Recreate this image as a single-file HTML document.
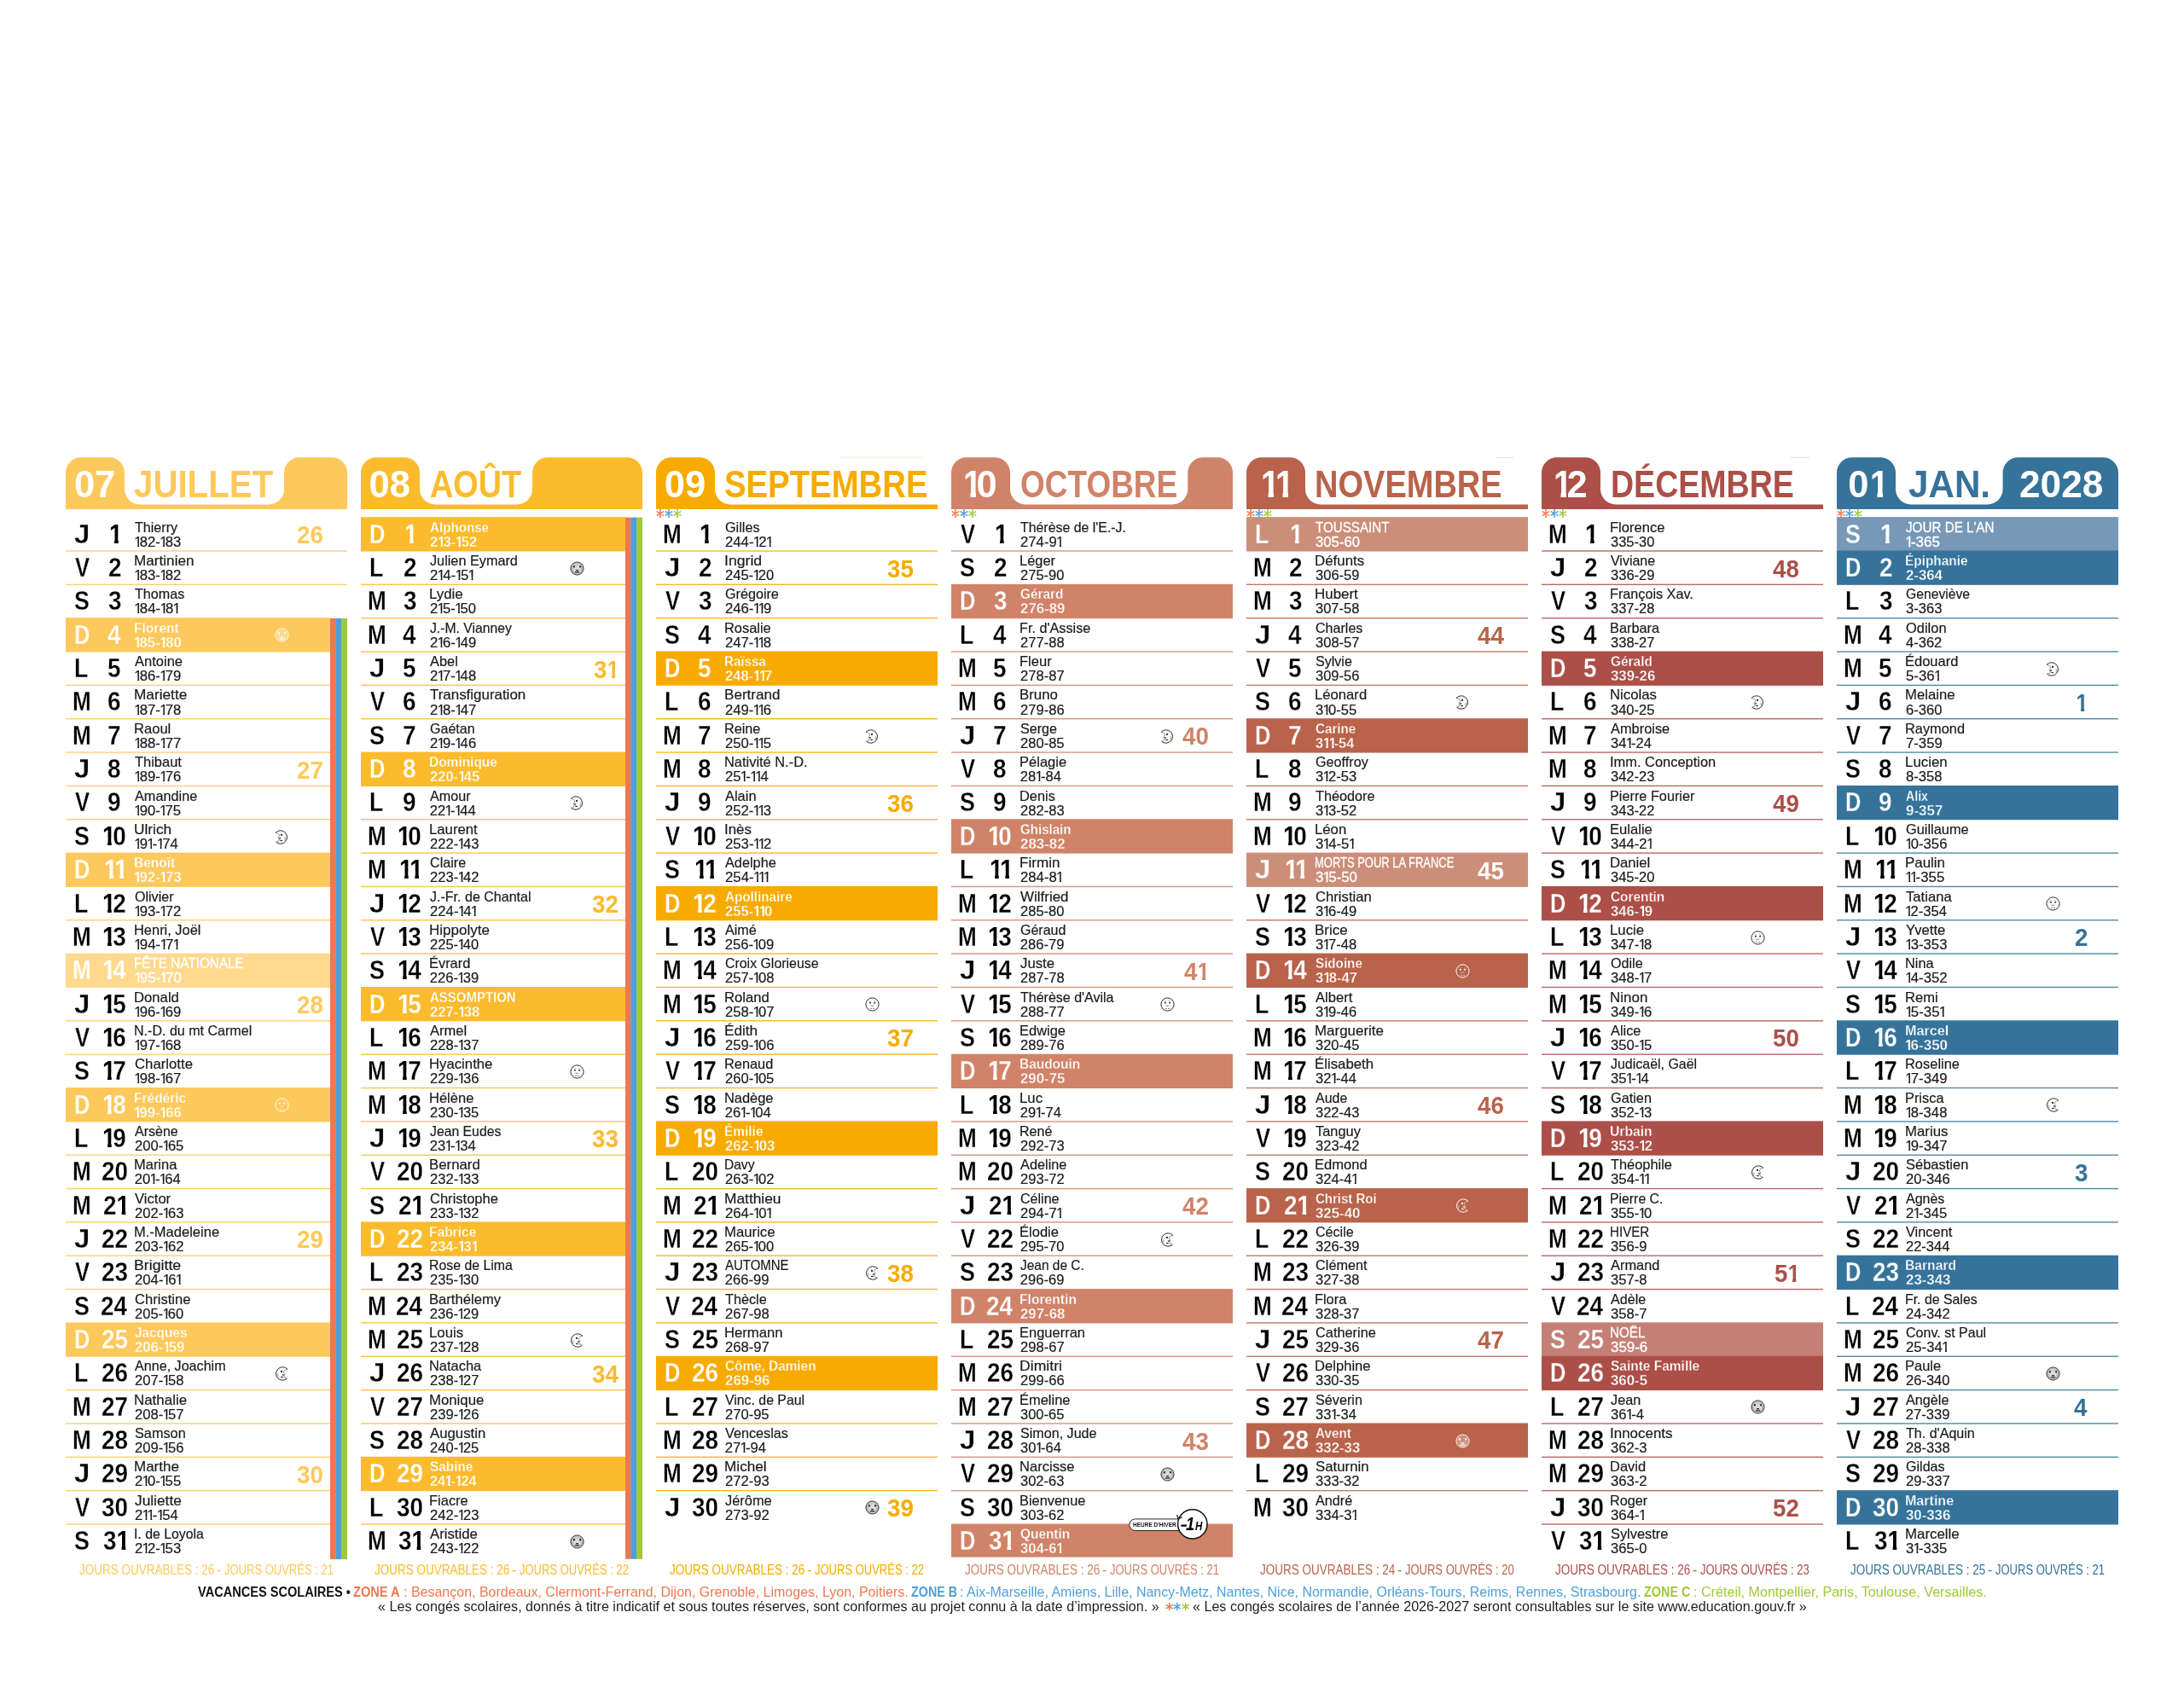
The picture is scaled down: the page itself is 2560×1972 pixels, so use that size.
<!DOCTYPE html>
<html lang="fr"><head><meta charset="utf-8"><title>Calendrier 2027 - second semestre</title>
<style>
html,body{margin:0;padding:0;background:#fff}
body{width:2560px;height:1972px;position:relative;overflow:hidden;font-family:"Liberation Sans",sans-serif;color:#000}
.col{position:absolute;top:0;width:330px;height:1972px;will-change:transform}
.g{position:absolute;left:0;top:0}
.t{position:absolute;white-space:nowrap;line-height:1;transform-origin:0 0;display:block}
.hn,.ht,.hy{font-weight:700;font-size:43.5px}
.hn,.hy{color:#fff}
.dl,.dn{font-size:31px;font-weight:700;-webkit-text-stroke:.3px #fff}
.w .dl,.w .dn{-webkit-text-stroke-color:var(--c)}
.h .dl,.h .dn{-webkit-text-stroke-color:var(--l)}
.o{display:inline-block;width:.44em;-webkit-text-stroke-width:0;transform-origin:.2165em 0;clip-path:polygon(0 0,.56em 0,.56em .55em,.385em .55em,.385em 1.2em,.218em 1.2em,.218em .55em,0 .55em)}
.nm{font-size:17px;color:#1a1a1a;-webkit-text-stroke:.2px #1a1a1a}
.nb{font-size:16.6px;color:#1a1a1a;-webkit-text-stroke:.2px #1a1a1a}
.h .nm,.h .nb{-webkit-text-stroke:.3px #fff}
.w .nm,.w .nb,.w .dl,.w .dn{color:#fff}
.s .nm,.s .nb{font-weight:700;-webkit-text-stroke:.3px var(--c)}
.wk{font-weight:700;font-size:29.5px}
.ft{font-size:15.6px}
.fl{position:absolute;left:0;top:0;width:2560px;height:1972px;will-change:transform}
i{font-style:normal}
.o9{width:.39em;transform:scaleX(.9)}
.p{display:inline-block;width:.346em;text-indent:-.045em;clip-path:polygon(0 0,.5em 0,.5em .55em,.31em .55em,.31em 1.2em,.192em 1.2em,.192em .55em,0 .55em)}
</style></head>
<body>
<svg width="0" height="0" style="position:absolute"><defs>
<radialGradient id="gN" cx=".5" cy=".45" r=".55"><stop offset="0" stop-color="#e2e2e2"/><stop offset=".45" stop-color="#cfcfcf"/><stop offset="1" stop-color="#a6a6a6"/></radialGradient>
<symbol id="mN" viewBox="0 0 17 17"><circle cx="8.5" cy="8.5" r="7.6" fill="var(--mf,url(#gN))" stroke="currentColor" stroke-width=".9"/><ellipse cx="4.9" cy="6.3" rx="1.05" ry="1.3" fill="currentColor"/><ellipse cx="12.1" cy="6.3" rx="1.05" ry="1.3" fill="currentColor"/><path d="M5.3 7.8V14M11.7 7.8V14" stroke="var(--ml,#f4f4f4)" stroke-width=".6" fill="none"/><path d="M6.9 9.9h3.2l-.5 1.5h-2.2z" fill="currentColor"/><path d="M5.7 13h5.6" stroke="currentColor" stroke-width="1.25" fill="none"/><path d="M6.4 14.6h4.2" stroke="var(--ml,#f2f2f2)" stroke-width=".6" fill="none"/></symbol>
<symbol id="mU" viewBox="0 0 17 17"><circle cx="8.5" cy="8.5" r="7.6" fill="var(--uf,#fff)" stroke="currentColor" stroke-width="1"/><path d="M3.9 5.3q1.7-1.3 3.4-.5M13.1 5.3q-1.7-1.3-3.4-.5" stroke="currentColor" stroke-width=".6" opacity=".45" fill="none"/><circle cx="5.9" cy="6.7" r=".95" fill="currentColor"/><circle cx="11.1" cy="6.7" r=".95" fill="currentColor"/><path d="M5.5 9.4q3 .5 6 0q-3 3-6 0z" fill="currentColor" opacity=".5"/><path d="M5.9 13.4h1.9M9.2 13.4h1.9" stroke="currentColor" stroke-width=".9" opacity=".75" fill="none"/></symbol>
<symbol id="mF" viewBox="0 0 17 17"><path d="M1 3.4A7.7 7.7 0 1 1 1.6 14.2" fill="none" stroke="currentColor" stroke-width="1"/><path d="M1 3.4Q5.6 3.8 5.6 7.2Q4 8.6 4.2 9.8Q5.4 10.6 5 11.6Q5.8 13.6 1.6 14.2" fill="none" stroke="currentColor" stroke-width=".65" opacity=".8"/><ellipse cx="8" cy="5.9" rx="1.15" ry="1.05" fill="currentColor"/><ellipse cx="6" cy="9.9" rx="1.3" ry=".85" fill="currentColor" opacity=".8"/><ellipse cx="7.6" cy="12.6" rx="1.5" ry=".75" fill="currentColor"/><path d="M12.2 8.2V12.4" stroke="currentColor" stroke-width=".7" opacity=".65"/></symbol>
<symbol id="mL" viewBox="0 0 17 17"><g transform="translate(17 0) scale(-1 1)"><path d="M1 3.4A7.7 7.7 0 1 1 1.6 14.2" fill="none" stroke="currentColor" stroke-width="1"/><path d="M1 3.4Q5.6 3.8 5.6 7.2Q4 8.6 4.2 9.8Q5.4 10.6 5 11.6Q5.8 13.6 1.6 14.2" fill="none" stroke="currentColor" stroke-width=".65" opacity=".8"/><ellipse cx="8" cy="5.9" rx="1.15" ry="1.05" fill="currentColor"/><ellipse cx="6" cy="9.9" rx="1.3" ry=".85" fill="currentColor" opacity=".8"/><ellipse cx="7.6" cy="12.6" rx="1.5" ry=".75" fill="currentColor"/><path d="M12.2 8.2V12.4" stroke="currentColor" stroke-width=".7" opacity=".65"/></g></symbol>
<symbol id="ast" viewBox="-5 -5 10 10"><path d="M0-4.4V4.4M-3.7-2.15L3.7 2.15M-3.7 2.15L3.7-2.15" stroke="currentColor" stroke-width="1.55" stroke-linecap="round" fill="none"/></symbol>
</defs></svg>
<div class="col" style="left:77px;color:#FDC95C;--c:#FDC95C;--l:#FED98E">
<svg class="g" width="330" height="1972" viewBox="0 0 330 1972"><path d="M0 596.9 V554.2 A18 18 0 0 1 18 536.2 H51 A18 18 0 0 1 69 554.2 V573.4 A18 18 0 0 0 87 591.4 H238 A18 18 0 0 0 256 573.4 V554.2 A18 18 0 0 1 274 536.2 H312 A18 18 0 0 1 330 554.2 V596.9 Z" fill="#FDC95C"/><rect x="0" y="645.3" width="330" height="1.4" fill="#FDC95C" opacity=".85"/><rect x="0" y="684.64" width="330" height="1.4" fill="#FDC95C" opacity=".85"/><rect x="0" y="724.19" width="310" height="40.34" fill="#FDC95C"/><rect x="0" y="802.68" width="310" height="1.4" fill="#FDC95C" opacity=".85"/><rect x="0" y="842.02" width="310" height="1.4" fill="#FDC95C" opacity=".85"/><rect x="0" y="881.37" width="310" height="1.4" fill="#FDC95C" opacity=".85"/><rect x="0" y="920.71" width="310" height="1.4" fill="#FDC95C" opacity=".85"/><rect x="0" y="960.06" width="310" height="1.4" fill="#FDC95C" opacity=".85"/><rect x="0" y="999.61" width="310" height="40.34" fill="#FDC95C"/><rect x="0" y="1078.09" width="310" height="1.4" fill="#FDC95C" opacity=".85"/><rect x="0" y="1117.64" width="310" height="40.34" fill="#FED98E"/><rect x="0" y="1196.13" width="310" height="1.4" fill="#FDC95C" opacity=".85"/><rect x="0" y="1235.47" width="310" height="1.4" fill="#FDC95C" opacity=".85"/><rect x="0" y="1275.02" width="310" height="40.34" fill="#FDC95C"/><rect x="0" y="1353.51" width="310" height="1.4" fill="#FDC95C" opacity=".85"/><rect x="0" y="1392.86" width="310" height="1.4" fill="#FDC95C" opacity=".85"/><rect x="0" y="1432.2" width="310" height="1.4" fill="#FDC95C" opacity=".85"/><rect x="0" y="1471.55" width="310" height="1.4" fill="#FDC95C" opacity=".85"/><rect x="0" y="1510.89" width="310" height="1.4" fill="#FDC95C" opacity=".85"/><rect x="0" y="1550.43" width="310" height="40.34" fill="#FDC95C"/><rect x="0" y="1628.92" width="310" height="1.4" fill="#FDC95C" opacity=".85"/><rect x="0" y="1668.27" width="310" height="1.4" fill="#FDC95C" opacity=".85"/><rect x="0" y="1707.62" width="310" height="1.4" fill="#FDC95C" opacity=".85"/><rect x="0" y="1746.96" width="310" height="1.4" fill="#FDC95C" opacity=".85"/><rect x="0" y="1786.3" width="310" height="1.4" fill="#FDC95C" opacity=".85"/><rect x="310" y="724.99" width="6.6" height="1103.11" fill="#EE7850"/><rect x="316.3" y="724.99" width="7.15" height="1103.11" fill="#4E9FDB"/><rect x="323.15" y="724.99" width="6.85" height="1103.11" fill="#A0C83C"/></svg>
<span class="t hn" style="left:9.9px;top:547.48px;">07</span><span class="t ht" style="left:80.4px;top:547.48px;transform:scaleX(0.925);">JUILLET</span>
<div class="r"><span class="t dl" style="left:10.21px;top:610.71px;transform:scaleX(1.064);color:#000;">J</span><span class="t dn" style="left:51.16px;top:610.71px;transform:scaleX(0.900);color:#000;"><i class="o">1</i></span><span class="t nm" style="left:81.05px;top:609.76px;transform:scaleX(0.946);">Thierry</span><span class="t nb" style="left:80.75px;top:627.8px;transform:scaleX(1.005);"><i class="p">1</i>82-<i class="p">1</i>83</span><span class="t wk" style="left:270.89px;top:612.18px;transform:scaleX(0.940);">26</span></div>
<div class="r"><span class="t dl" style="left:10.55px;top:650.06px;transform:scaleX(0.827);color:#000;">V</span><span class="t dn" style="left:49.51px;top:650.06px;transform:scaleX(0.900);color:#000;">2</span><span class="t nm" style="left:79.99px;top:649.11px;transform:scaleX(1.009);">Martinien</span><span class="t nb" style="left:80.75px;top:667.15px;transform:scaleX(1.007);"><i class="p">1</i>83-<i class="p">1</i>82</span></div>
<div class="r"><span class="t dl" style="left:10.3px;top:689.4px;transform:scaleX(0.866);color:#000;">S</span><span class="t dn" style="left:49.63px;top:689.4px;transform:scaleX(0.900);color:#000;">3</span><span class="t nm" style="left:81.05px;top:688.45px;transform:scaleX(0.948);">Thomas</span><span class="t nb" style="left:80.74px;top:706.49px;transform:scaleX(1.014);"><i class="p">1</i>84-<i class="p">1</i>8<i class="p">1</i></span></div>
<div class="r w s"><span class="t dl" style="left:9.57px;top:728.75px;transform:scaleX(0.823);">D</span><span class="t dn" style="left:49.3px;top:728.75px;transform:scaleX(0.900);">4</span><span class="t nm" style="left:80.37px;top:727.8px;transform:scaleX(0.916);">Florent</span><span class="t nb" style="left:80.29px;top:745.84px;transform:scaleX(1.009);"><i class="o o9">1</i>85-<i class="o o9">1</i>80</span><svg class="g" style="left:244.55px;top:736.49px;color:#fff;--mf:rgba(255,255,255,.28);--uf:none;--ml:rgba(255,255,255,.75)" width="17" height="17"><use href="#mN"/></svg></div>
<div class="r"><span class="t dl" style="left:10.43px;top:768.09px;transform:scaleX(0.864);color:#000;">L</span><span class="t dn" style="left:49.4px;top:768.09px;transform:scaleX(0.900);color:#000;">5</span><span class="t nm" style="left:81.37px;top:767.14px;transform:scaleX(0.972);">Antoine</span><span class="t nb" style="left:80.75px;top:785.18px;transform:scaleX(1.006);"><i class="p">1</i>86-<i class="p">1</i>79</span></div>
<div class="r"><span class="t dl" style="left:8.23px;top:807.44px;transform:scaleX(0.842);color:#000;">M</span><span class="t dn" style="left:49.43px;top:807.44px;transform:scaleX(0.900);color:#000;">6</span><span class="t nm" style="left:79.99px;top:806.49px;transform:scaleX(1.014);">Mariette</span><span class="t nb" style="left:80.75px;top:824.53px;transform:scaleX(1.005);"><i class="p">1</i>87-<i class="p">1</i>78</span></div>
<div class="r"><span class="t dl" style="left:8.23px;top:846.78px;transform:scaleX(0.842);color:#000;">M</span><span class="t dn" style="left:49.46px;top:846.78px;transform:scaleX(0.900);color:#000;">7</span><span class="t nm" style="left:80.04px;top:845.83px;transform:scaleX(0.975);">Raoul</span><span class="t nb" style="left:80.75px;top:863.87px;transform:scaleX(1.007);"><i class="p">1</i>88-<i class="p">1</i>77</span></div>
<div class="r"><span class="t dl" style="left:10.21px;top:886.13px;transform:scaleX(1.064);color:#000;">J</span><span class="t dn" style="left:49.43px;top:886.13px;transform:scaleX(0.900);color:#000;">8</span><span class="t nm" style="left:81.04px;top:885.18px;transform:scaleX(0.968);">Thibaut</span><span class="t nb" style="left:80.75px;top:903.22px;transform:scaleX(1.005);"><i class="p">1</i>89-<i class="p">1</i>76</span><span class="t wk" style="left:271px;top:887.6px;transform:scaleX(0.940);">27</span></div>
<div class="r"><span class="t dl" style="left:10.55px;top:925.47px;transform:scaleX(0.827);color:#000;">V</span><span class="t dn" style="left:49.47px;top:925.47px;transform:scaleX(0.900);color:#000;">9</span><span class="t nm" style="left:81.37px;top:924.52px;transform:scaleX(0.958);">Amandine</span><span class="t nb" style="left:80.75px;top:942.56px;transform:scaleX(1.004);"><i class="p">1</i>90-<i class="p">1</i>75</span></div>
<div class="r"><span class="t dl" style="left:10.3px;top:964.82px;transform:scaleX(0.866);color:#000;">S</span><span class="t dn" style="left:42.98px;top:964.82px;transform:scaleX(0.900);color:#000;"><i class="o">1</i>0</span><span class="t nm" style="left:80.07px;top:963.87px;transform:scaleX(1.016);">Ulrich</span><span class="t nb" style="left:80.75px;top:981.91px;transform:scaleX(1.006);"><i class="p">1</i>9<i class="p">1</i>-<i class="p">1</i>74</span><svg class="g" style="left:245.05px;top:972.66px;color:#2a2a2a" width="17" height="17"><use href="#mF"/></svg></div>
<div class="r w s"><span class="t dl" style="left:9.57px;top:1004.16px;transform:scaleX(0.823);">D</span><span class="t dn" style="left:45.02px;top:1004.16px;transform:scaleX(0.900);"><i class="o">1</i><i class="o">1</i></span><span class="t nm" style="left:80.38px;top:1003.21px;transform:scaleX(0.909);">Benoît</span><span class="t nb" style="left:80.29px;top:1021.25px;transform:scaleX(1.008);"><i class="o o9">1</i>92-<i class="o o9">1</i>73</span></div>
<div class="r"><span class="t dl" style="left:10.43px;top:1043.51px;transform:scaleX(0.864);color:#000;">L</span><span class="t dn" style="left:42.97px;top:1043.51px;transform:scaleX(0.900);color:#000;"><i class="o">1</i>2</span><span class="t nm" style="left:80.65px;top:1042.56px;transform:scaleX(0.944);">Olivier</span><span class="t nb" style="left:80.75px;top:1060.6px;transform:scaleX(1.007);"><i class="p">1</i>93-<i class="p">1</i>72</span></div>
<div class="r"><span class="t dl" style="left:8.23px;top:1082.85px;transform:scaleX(0.842);color:#000;">M</span><span class="t dn" style="left:42.92px;top:1082.85px;transform:scaleX(0.900);color:#000;"><i class="o">1</i>3</span><span class="t nm" style="left:80.05px;top:1081.9px;transform:scaleX(0.966);">Henri, Joël</span><span class="t nb" style="left:80.74px;top:1099.94px;transform:scaleX(1.014);"><i class="p">1</i>94-<i class="p">1</i>7<i class="p">1</i></span></div>
<div class="r w h"><span class="t dl" style="left:8.23px;top:1122.2px;transform:scaleX(0.842);">M</span><span class="t dn" style="left:42.5px;top:1122.2px;transform:scaleX(0.900);"><i class="o">1</i>4</span><span class="t nm" style="left:80.15px;top:1121.25px;transform:scaleX(0.899);">FÊTE NATIONALE</span><span class="t nb" style="left:80.74px;top:1139.29px;transform:scaleX(1.018);"><i class="p">1</i>95-<i class="p">1</i>70</span></div>
<div class="r"><span class="t dl" style="left:10.21px;top:1161.54px;transform:scaleX(1.064);color:#000;">J</span><span class="t dn" style="left:42.8px;top:1161.54px;transform:scaleX(0.900);color:#000;"><i class="o">1</i>5</span><span class="t nm" style="left:80.03px;top:1160.59px;transform:scaleX(0.982);">Donald</span><span class="t nb" style="left:80.75px;top:1178.63px;transform:scaleX(1.006);"><i class="p">1</i>96-<i class="p">1</i>69</span><span class="t wk" style="left:270.82px;top:1163.01px;transform:scaleX(0.940);">28</span></div>
<div class="r"><span class="t dl" style="left:10.55px;top:1200.89px;transform:scaleX(0.827);color:#000;">V</span><span class="t dn" style="left:42.92px;top:1200.89px;transform:scaleX(0.900);color:#000;"><i class="o">1</i>6</span><span class="t nm" style="left:80.08px;top:1199.94px;transform:scaleX(0.944);">N.-D. du mt Carmel</span><span class="t nb" style="left:80.75px;top:1217.98px;transform:scaleX(1.005);"><i class="p">1</i>97-<i class="p">1</i>68</span></div>
<div class="r"><span class="t dl" style="left:10.3px;top:1240.23px;transform:scaleX(0.866);color:#000;">S</span><span class="t dn" style="left:43.03px;top:1240.23px;transform:scaleX(0.900);color:#000;"><i class="o">1</i>7</span><span class="t nm" style="left:80.56px;top:1239.28px;transform:scaleX(0.985);">Charlotte</span><span class="t nb" style="left:80.75px;top:1257.32px;transform:scaleX(1.007);"><i class="p">1</i>98-<i class="p">1</i>67</span></div>
<div class="r w s"><span class="t dl" style="left:9.57px;top:1279.58px;transform:scaleX(0.823);">D</span><span class="t dn" style="left:42.85px;top:1279.58px;transform:scaleX(0.900);"><i class="o">1</i>8</span><span class="t nm" style="left:80.38px;top:1278.63px;transform:scaleX(0.912);">Frédéric</span><span class="t nb" style="left:80.29px;top:1296.67px;transform:scaleX(1.008);"><i class="o o9">1</i>99-<i class="o o9">1</i>66</span><svg class="g" style="left:244.55px;top:1287.32px;color:#fff;--mf:rgba(255,255,255,.28);--uf:none;--ml:rgba(255,255,255,.75)" width="17" height="17"><use href="#mU"/></svg></div>
<div class="r"><span class="t dl" style="left:10.43px;top:1318.92px;transform:scaleX(0.864);color:#000;">L</span><span class="t dn" style="left:42.93px;top:1318.92px;transform:scaleX(0.900);color:#000;"><i class="o">1</i>9</span><span class="t nm" style="left:81.37px;top:1317.97px;transform:scaleX(0.942);">Arsène</span><span class="t nb" style="left:80.77px;top:1336.01px;transform:scaleX(0.998);">200-<i class="p">1</i>65</span></div>
<div class="r"><span class="t dl" style="left:8.23px;top:1358.27px;transform:scaleX(0.842);color:#000;">M</span><span class="t dn" style="left:41.77px;top:1358.27px;transform:scaleX(0.900);color:#000;">20</span><span class="t nm" style="left:80.05px;top:1357.32px;transform:scaleX(0.969);">Marina</span><span class="t nb" style="left:80.77px;top:1375.36px;">20<i class="p">1</i>-<i class="p">1</i>64</span></div>
<div class="r"><span class="t dl" style="left:8.23px;top:1397.61px;transform:scaleX(0.842);color:#000;">M</span><span class="t dn" style="left:43.81px;top:1397.61px;transform:scaleX(0.900);color:#000;">2<i class="o">1</i></span><span class="t nm" style="left:81.33px;top:1396.66px;transform:scaleX(0.977);">Victor</span><span class="t nb" style="left:80.77px;top:1414.7px;transform:scaleX(0.999);">202-<i class="p">1</i>63</span></div>
<div class="r"><span class="t dl" style="left:10.21px;top:1436.96px;transform:scaleX(1.064);color:#000;">J</span><span class="t dn" style="left:41.76px;top:1436.96px;transform:scaleX(0.900);color:#000;">22</span><span class="t nm" style="left:80.04px;top:1436.01px;transform:scaleX(0.972);">M.-Madeleine</span><span class="t nb" style="left:80.77px;top:1454.05px;transform:scaleX(1.001);">203-<i class="p">1</i>62</span><span class="t wk" style="left:270.91px;top:1438.43px;transform:scaleX(0.940);">29</span></div>
<div class="r"><span class="t dl" style="left:10.55px;top:1476.3px;transform:scaleX(0.827);color:#000;">V</span><span class="t dn" style="left:41.7px;top:1476.3px;transform:scaleX(0.900);color:#000;">23</span><span class="t nm" style="left:79.95px;top:1475.35px;transform:scaleX(1.043);">Brigitte</span><span class="t nb" style="left:80.76px;top:1493.39px;transform:scaleX(1.007);">204-<i class="p">1</i>6<i class="p">1</i></span></div>
<div class="r"><span class="t dl" style="left:10.3px;top:1515.65px;transform:scaleX(0.866);color:#000;">S</span><span class="t dn" style="left:41.28px;top:1515.65px;transform:scaleX(0.900);color:#000;">24</span><span class="t nm" style="left:80.57px;top:1514.7px;transform:scaleX(0.976);">Christine</span><span class="t nb" style="left:80.77px;top:1532.74px;transform:scaleX(0.997);">205-<i class="p">1</i>60</span></div>
<div class="r w s"><span class="t dl" style="left:9.57px;top:1554.99px;transform:scaleX(0.823);">D</span><span class="t dn" style="left:41.59px;top:1554.99px;transform:scaleX(0.900);">25</span><span class="t nm" style="left:81.17px;top:1554.04px;transform:scaleX(0.903);">Jacques</span><span class="t nb" style="left:81.03px;top:1572.08px;transform:scaleX(1.004);">206-<i class="o o9">1</i>59</span></div>
<div class="r"><span class="t dl" style="left:10.43px;top:1594.34px;transform:scaleX(0.864);color:#000;">L</span><span class="t dn" style="left:41.7px;top:1594.34px;transform:scaleX(0.900);color:#000;">26</span><span class="t nm" style="left:81.37px;top:1593.39px;transform:scaleX(0.948);">Anne, Joachim</span><span class="t nb" style="left:80.77px;top:1611.43px;transform:scaleX(0.999);">207-<i class="p">1</i>58</span><svg class="g" style="left:243.55px;top:1602.18px;color:#2a2a2a" width="17" height="17"><use href="#mL"/></svg></div>
<div class="r"><span class="t dl" style="left:8.23px;top:1633.68px;transform:scaleX(0.842);color:#000;">M</span><span class="t dn" style="left:41.81px;top:1633.68px;transform:scaleX(0.900);color:#000;">27</span><span class="t nm" style="left:80.01px;top:1632.73px;transform:scaleX(0.995);">Nathalie</span><span class="t nb" style="left:80.77px;top:1650.77px;transform:scaleX(1.001);">208-<i class="p">1</i>57</span></div>
<div class="r"><span class="t dl" style="left:8.23px;top:1673.03px;transform:scaleX(0.842);color:#000;">M</span><span class="t dn" style="left:41.63px;top:1673.03px;transform:scaleX(0.900);color:#000;">28</span><span class="t nm" style="left:80.67px;top:1672.08px;transform:scaleX(0.957);">Samson</span><span class="t nb" style="left:80.77px;top:1690.12px;transform:scaleX(0.999);">209-<i class="p">1</i>56</span></div>
<div class="r"><span class="t dl" style="left:10.21px;top:1712.37px;transform:scaleX(1.064);color:#000;">J</span><span class="t dn" style="left:41.71px;top:1712.37px;transform:scaleX(0.900);color:#000;">29</span><span class="t nm" style="left:80.01px;top:1711.42px;">Marthe</span><span class="t nb" style="left:80.77px;top:1729.46px;transform:scaleX(1.004);">2<i class="p">1</i>0-<i class="p">1</i>55</span><span class="t wk" style="left:271.13px;top:1713.84px;transform:scaleX(0.940);">30</span></div>
<div class="r"><span class="t dl" style="left:10.55px;top:1751.72px;transform:scaleX(0.827);color:#000;">V</span><span class="t dn" style="left:41.94px;top:1751.72px;transform:scaleX(0.900);color:#000;">30</span><span class="t nm" style="left:81.14px;top:1750.77px;transform:scaleX(1.018);">Juliette</span><span class="t nb" style="left:80.77px;top:1768.81px;transform:scaleX(1.006);">2<i class="p">1</i><i class="p">1</i>-<i class="p">1</i>54</span></div>
<div class="r"><span class="t dl" style="left:10.3px;top:1791.06px;transform:scaleX(0.866);color:#000;">S</span><span class="t dn" style="left:43.97px;top:1791.06px;transform:scaleX(0.900);color:#000;">3<i class="o">1</i></span><span class="t nm" style="left:79.94px;top:1790.11px;transform:scaleX(0.932);">I. de Loyola</span><span class="t nb" style="left:80.77px;top:1808.15px;transform:scaleX(1.004);">2<i class="p">1</i>2-<i class="p">1</i>53</span></div>
<span class="t ft" style="left:15.6px;top:1833.09px;transform:scaleX(0.866);">JOURS OUVRABLES : 26</span><span class="t ft" style="left:177.4px;top:1833.09px;transform:scaleX(1.020);">-</span><span class="t ft" style="left:186.2px;top:1833.09px;transform:scaleX(0.834);">JOURS OUVRÉS : 21</span>
</div>
<div class="col" style="left:423px;color:#FBBB2D;--c:#FBBB2D;--l:#FCCF6C">
<svg class="g" width="330" height="1972" viewBox="0 0 330 1972"><path d="M0 596.9 V554.2 A18 18 0 0 1 18 536.2 H51 A18 18 0 0 1 69 554.2 V573.4 A18 18 0 0 0 87 591.4 H183 A18 18 0 0 0 201 573.4 V554.2 A18 18 0 0 1 219 536.2 H312 A18 18 0 0 1 330 554.2 V596.9 Z" fill="#FBBB2D"/><rect x="0" y="606.15" width="310" height="40.34" fill="#FBBB2D"/><rect x="0" y="684.64" width="310" height="1.4" fill="#FBBB2D" opacity=".85"/><rect x="0" y="723.99" width="310" height="1.4" fill="#FBBB2D" opacity=".85"/><rect x="0" y="763.33" width="310" height="1.4" fill="#FBBB2D" opacity=".85"/><rect x="0" y="802.68" width="310" height="1.4" fill="#FBBB2D" opacity=".85"/><rect x="0" y="842.02" width="310" height="1.4" fill="#FBBB2D" opacity=".85"/><rect x="0" y="881.57" width="310" height="40.34" fill="#FBBB2D"/><rect x="0" y="960.06" width="310" height="1.4" fill="#FBBB2D" opacity=".85"/><rect x="0" y="999.4" width="310" height="1.4" fill="#FBBB2D" opacity=".85"/><rect x="0" y="1038.75" width="310" height="1.4" fill="#FBBB2D" opacity=".85"/><rect x="0" y="1078.09" width="310" height="1.4" fill="#FBBB2D" opacity=".85"/><rect x="0" y="1117.44" width="310" height="1.4" fill="#FBBB2D" opacity=".85"/><rect x="0" y="1156.98" width="310" height="40.34" fill="#FBBB2D"/><rect x="0" y="1235.47" width="310" height="1.4" fill="#FBBB2D" opacity=".85"/><rect x="0" y="1274.82" width="310" height="1.4" fill="#FBBB2D" opacity=".85"/><rect x="0" y="1314.16" width="310" height="1.4" fill="#FBBB2D" opacity=".85"/><rect x="0" y="1353.51" width="310" height="1.4" fill="#FBBB2D" opacity=".85"/><rect x="0" y="1392.86" width="310" height="1.4" fill="#FBBB2D" opacity=".85"/><rect x="0" y="1432.4" width="310" height="40.34" fill="#FBBB2D"/><rect x="0" y="1510.89" width="310" height="1.4" fill="#FBBB2D" opacity=".85"/><rect x="0" y="1550.23" width="310" height="1.4" fill="#FBBB2D" opacity=".85"/><rect x="0" y="1589.58" width="310" height="1.4" fill="#FBBB2D" opacity=".85"/><rect x="0" y="1628.92" width="310" height="1.4" fill="#FBBB2D" opacity=".85"/><rect x="0" y="1668.27" width="310" height="1.4" fill="#FBBB2D" opacity=".85"/><rect x="0" y="1707.81" width="310" height="40.34" fill="#FBBB2D"/><rect x="0" y="1786.3" width="310" height="1.4" fill="#FBBB2D" opacity=".85"/><rect x="310" y="606.65" width="6.6" height="1221.14" fill="#EE7850"/><rect x="316.3" y="606.65" width="7.15" height="1221.14" fill="#4E9FDB"/><rect x="323.15" y="606.65" width="6.85" height="1221.14" fill="#A0C83C"/></svg>
<span class="t hn" style="left:9.61px;top:547.48px;">08</span><span class="t ht" style="left:81.39px;top:547.48px;transform:scaleX(0.870);">AOÛT</span>
<div class="r w s"><span class="t dl" style="left:9.57px;top:610.71px;transform:scaleX(0.823);">D</span><span class="t dn" style="left:51.16px;top:610.71px;transform:scaleX(0.900);"><i class="o">1</i></span><span class="t nm" style="left:81.04px;top:609.76px;transform:scaleX(0.891);">Alphonse</span><span class="t nb" style="left:81.04px;top:627.8px;transform:scaleX(0.995);">2<i class="o o9">1</i>3-<i class="o o9">1</i>52</span></div>
<div class="r"><span class="t dl" style="left:10.43px;top:650.06px;transform:scaleX(0.864);color:#000;">L</span><span class="t dn" style="left:49.51px;top:650.06px;transform:scaleX(0.900);color:#000;">2</span><span class="t nm" style="left:81.16px;top:649.11px;transform:scaleX(0.955);">Julien Eymard</span><span class="t nb" style="left:80.76px;top:667.15px;transform:scaleX(1.014);">2<i class="p">1</i>4-<i class="p">1</i>5<i class="p">1</i></span><svg class="g" style="left:244.55px;top:657.8px;color:#2a2a2a" width="17" height="17"><use href="#mN"/></svg></div>
<div class="r"><span class="t dl" style="left:8.23px;top:689.4px;transform:scaleX(0.842);color:#000;">M</span><span class="t dn" style="left:49.63px;top:689.4px;transform:scaleX(0.900);color:#000;">3</span><span class="t nm" style="left:80.02px;top:688.45px;transform:scaleX(0.992);">Lydie</span><span class="t nb" style="left:80.77px;top:706.49px;transform:scaleX(1.003);">2<i class="p">1</i>5-<i class="p">1</i>50</span></div>
<div class="r"><span class="t dl" style="left:8.23px;top:728.75px;transform:scaleX(0.842);color:#000;">M</span><span class="t dn" style="left:49.3px;top:728.75px;transform:scaleX(0.900);color:#000;">4</span><span class="t nm" style="left:81.16px;top:727.8px;transform:scaleX(0.926);">J.-M. Vianney</span><span class="t nb" style="left:80.77px;top:745.84px;transform:scaleX(1.006);">2<i class="p">1</i>6-<i class="p">1</i>49</span></div>
<div class="r"><span class="t dl" style="left:10.21px;top:768.09px;transform:scaleX(1.064);color:#000;">J</span><span class="t dn" style="left:49.4px;top:768.09px;transform:scaleX(0.900);color:#000;">5</span><span class="t nm" style="left:81.37px;top:767.14px;transform:scaleX(0.963);">Abel</span><span class="t nb" style="left:80.77px;top:785.18px;transform:scaleX(1.004);">2<i class="p">1</i>7-<i class="p">1</i>48</span><span class="t wk" style="left:273.37px;top:769.56px;transform:scaleX(0.940);">3<i class="o o9">1</i></span></div>
<div class="r"><span class="t dl" style="left:10.55px;top:807.44px;transform:scaleX(0.827);color:#000;">V</span><span class="t dn" style="left:49.43px;top:807.44px;transform:scaleX(0.900);color:#000;">6</span><span class="t nm" style="left:81.03px;top:806.49px;transform:scaleX(0.995);">Transfiguration</span><span class="t nb" style="left:80.76px;top:824.53px;transform:scaleX(1.007);">2<i class="p">1</i>8-<i class="p">1</i>47</span></div>
<div class="r"><span class="t dl" style="left:10.3px;top:846.78px;transform:scaleX(0.866);color:#000;">S</span><span class="t dn" style="left:49.46px;top:846.78px;transform:scaleX(0.900);color:#000;">7</span><span class="t nm" style="left:80.6px;top:845.83px;transform:scaleX(0.944);">Gaétan</span><span class="t nb" style="left:80.77px;top:863.87px;transform:scaleX(1.004);">2<i class="p">1</i>9-<i class="p">1</i>46</span></div>
<div class="r w s"><span class="t dl" style="left:9.57px;top:886.13px;transform:scaleX(0.823);">D</span><span class="t dn" style="left:49.43px;top:886.13px;transform:scaleX(0.900);">8</span><span class="t nm" style="left:80.38px;top:885.18px;transform:scaleX(0.910);">Dominique</span><span class="t nb" style="left:81.03px;top:903.22px;transform:scaleX(1.001);">220-<i class="o o9">1</i>45</span></div>
<div class="r"><span class="t dl" style="left:10.43px;top:925.47px;transform:scaleX(0.864);color:#000;">L</span><span class="t dn" style="left:49.47px;top:925.47px;transform:scaleX(0.900);color:#000;">9</span><span class="t nm" style="left:81.37px;top:924.52px;transform:scaleX(0.951);">Amour</span><span class="t nb" style="left:80.77px;top:942.56px;">22<i class="p">1</i>-<i class="p">1</i>44</span><svg class="g" style="left:245.05px;top:933.31px;color:#2a2a2a" width="17" height="17"><use href="#mF"/></svg></div>
<div class="r"><span class="t dl" style="left:8.23px;top:964.82px;transform:scaleX(0.842);color:#000;">M</span><span class="t dn" style="left:42.98px;top:964.82px;transform:scaleX(0.900);color:#000;"><i class="o">1</i>0</span><span class="t nm" style="left:80.03px;top:963.87px;transform:scaleX(0.983);">Laurent</span><span class="t nb" style="left:80.77px;top:981.91px;transform:scaleX(0.999);">222-<i class="p">1</i>43</span></div>
<div class="r"><span class="t dl" style="left:8.23px;top:1004.16px;transform:scaleX(0.842);color:#000;">M</span><span class="t dn" style="left:45.02px;top:1004.16px;transform:scaleX(0.900);color:#000;"><i class="o">1</i><i class="o">1</i></span><span class="t nm" style="left:80.59px;top:1003.21px;transform:scaleX(0.949);">Claire</span><span class="t nb" style="left:80.77px;top:1021.25px;transform:scaleX(1.001);">223-<i class="p">1</i>42</span></div>
<div class="r"><span class="t dl" style="left:10.21px;top:1043.51px;transform:scaleX(1.064);color:#000;">J</span><span class="t dn" style="left:42.97px;top:1043.51px;transform:scaleX(0.900);color:#000;"><i class="o">1</i>2</span><span class="t nm" style="left:81.16px;top:1042.56px;transform:scaleX(0.943);">J.-Fr. de Chantal</span><span class="t nb" style="left:80.76px;top:1060.6px;transform:scaleX(1.007);">224-<i class="p">1</i>4<i class="p">1</i></span><span class="t wk" style="left:271.12px;top:1044.98px;transform:scaleX(0.940);">32</span></div>
<div class="r"><span class="t dl" style="left:10.55px;top:1082.85px;transform:scaleX(0.827);color:#000;">V</span><span class="t dn" style="left:42.92px;top:1082.85px;transform:scaleX(0.900);color:#000;"><i class="o">1</i>3</span><span class="t nm" style="left:80px;top:1081.9px;">Hippolyte</span><span class="t nb" style="left:80.77px;top:1099.94px;transform:scaleX(0.997);">225-<i class="p">1</i>40</span></div>
<div class="r"><span class="t dl" style="left:10.3px;top:1122.2px;transform:scaleX(0.866);color:#000;">S</span><span class="t dn" style="left:42.5px;top:1122.2px;transform:scaleX(0.900);color:#000;"><i class="o">1</i>4</span><span class="t nm" style="left:80.05px;top:1121.25px;transform:scaleX(0.965);">Évrard</span><span class="t nb" style="left:80.77px;top:1139.29px;">226-<i class="p">1</i>39</span></div>
<div class="r w s"><span class="t dl" style="left:9.57px;top:1161.54px;transform:scaleX(0.823);">D</span><span class="t dn" style="left:42.8px;top:1161.54px;transform:scaleX(0.900);"><i class="o">1</i>5</span><span class="t nm" style="left:81.04px;top:1160.59px;transform:scaleX(0.881);">ASSOMPTION</span><span class="t nb" style="left:81.03px;top:1178.63px;transform:scaleX(1.002);">227-<i class="o o9">1</i>38</span></div>
<div class="r"><span class="t dl" style="left:10.43px;top:1200.89px;transform:scaleX(0.864);color:#000;">L</span><span class="t dn" style="left:42.92px;top:1200.89px;transform:scaleX(0.900);color:#000;"><i class="o">1</i>6</span><span class="t nm" style="left:81.37px;top:1199.94px;transform:scaleX(0.974);">Armel</span><span class="t nb" style="left:80.77px;top:1217.98px;transform:scaleX(1.001);">228-<i class="p">1</i>37</span></div>
<div class="r"><span class="t dl" style="left:8.23px;top:1240.23px;transform:scaleX(0.842);color:#000;">M</span><span class="t dn" style="left:43.03px;top:1240.23px;transform:scaleX(0.900);color:#000;"><i class="o">1</i>7</span><span class="t nm" style="left:80.03px;top:1239.28px;transform:scaleX(0.984);">Hyacinthe</span><span class="t nb" style="left:80.77px;top:1257.32px;transform:scaleX(0.999);">229-<i class="p">1</i>36</span><svg class="g" style="left:244.55px;top:1247.97px;color:#2a2a2a" width="17" height="17"><use href="#mU"/></svg></div>
<div class="r"><span class="t dl" style="left:8.23px;top:1279.58px;transform:scaleX(0.842);color:#000;">M</span><span class="t dn" style="left:42.85px;top:1279.58px;transform:scaleX(0.900);color:#000;"><i class="o">1</i>8</span><span class="t nm" style="left:80.05px;top:1278.63px;transform:scaleX(0.972);">Hélène</span><span class="t nb" style="left:80.77px;top:1296.67px;transform:scaleX(0.998);">230-<i class="p">1</i>35</span></div>
<div class="r"><span class="t dl" style="left:10.21px;top:1318.92px;transform:scaleX(1.064);color:#000;">J</span><span class="t dn" style="left:42.93px;top:1318.92px;transform:scaleX(0.900);color:#000;"><i class="o">1</i>9</span><span class="t nm" style="left:81.16px;top:1317.97px;transform:scaleX(0.928);">Jean Eudes</span><span class="t nb" style="left:80.77px;top:1336.01px;">23<i class="p">1</i>-<i class="p">1</i>34</span><span class="t wk" style="left:271.06px;top:1320.39px;transform:scaleX(0.940);">33</span></div>
<div class="r"><span class="t dl" style="left:10.55px;top:1358.27px;transform:scaleX(0.827);color:#000;">V</span><span class="t dn" style="left:41.77px;top:1358.27px;transform:scaleX(0.900);color:#000;">20</span><span class="t nm" style="left:80.02px;top:1357.32px;transform:scaleX(0.988);">Bernard</span><span class="t nb" style="left:80.77px;top:1375.36px;transform:scaleX(0.999);">232-<i class="p">1</i>33</span></div>
<div class="r"><span class="t dl" style="left:10.3px;top:1397.61px;transform:scaleX(0.866);color:#000;">S</span><span class="t dn" style="left:43.81px;top:1397.61px;transform:scaleX(0.900);color:#000;">2<i class="o">1</i></span><span class="t nm" style="left:80.57px;top:1396.66px;transform:scaleX(0.972);">Christophe</span><span class="t nb" style="left:80.77px;top:1414.7px;transform:scaleX(1.001);">233-<i class="p">1</i>32</span></div>
<div class="r w s"><span class="t dl" style="left:9.57px;top:1436.96px;transform:scaleX(0.823);">D</span><span class="t dn" style="left:41.76px;top:1436.96px;transform:scaleX(0.900);">22</span><span class="t nm" style="left:80.37px;top:1436.01px;transform:scaleX(0.914);">Fabrice</span><span class="t nb" style="left:81.04px;top:1454.05px;transform:scaleX(0.994);">234-<i class="o o9">1</i>3<i class="o o9">1</i></span></div>
<div class="r"><span class="t dl" style="left:10.43px;top:1476.3px;transform:scaleX(0.864);color:#000;">L</span><span class="t dn" style="left:41.7px;top:1476.3px;transform:scaleX(0.900);color:#000;">23</span><span class="t nm" style="left:80.1px;top:1475.35px;transform:scaleX(0.932);">Rose de Lima</span><span class="t nb" style="left:80.77px;top:1493.39px;transform:scaleX(0.997);">235-<i class="p">1</i>30</span></div>
<div class="r"><span class="t dl" style="left:8.23px;top:1515.65px;transform:scaleX(0.842);color:#000;">M</span><span class="t dn" style="left:41.28px;top:1515.65px;transform:scaleX(0.900);color:#000;">24</span><span class="t nm" style="left:80.04px;top:1514.7px;transform:scaleX(0.978);">Barthélemy</span><span class="t nb" style="left:80.77px;top:1532.74px;">236-<i class="p">1</i>29</span></div>
<div class="r"><span class="t dl" style="left:8.23px;top:1554.99px;transform:scaleX(0.842);color:#000;">M</span><span class="t dn" style="left:41.59px;top:1554.99px;transform:scaleX(0.900);color:#000;">25</span><span class="t nm" style="left:80.03px;top:1554.04px;transform:scaleX(0.986);">Louis</span><span class="t nb" style="left:80.77px;top:1572.08px;transform:scaleX(0.999);">237-<i class="p">1</i>28</span><svg class="g" style="left:243.55px;top:1562.84px;color:#2a2a2a" width="17" height="17"><use href="#mL"/></svg></div>
<div class="r"><span class="t dl" style="left:10.21px;top:1594.34px;transform:scaleX(1.064);color:#000;">J</span><span class="t dn" style="left:41.7px;top:1594.34px;transform:scaleX(0.900);color:#000;">26</span><span class="t nm" style="left:80.05px;top:1593.39px;transform:scaleX(0.967);">Natacha</span><span class="t nb" style="left:80.77px;top:1611.43px;transform:scaleX(1.001);">238-<i class="p">1</i>27</span><span class="t wk" style="left:270.64px;top:1595.81px;transform:scaleX(0.940);">34</span></div>
<div class="r"><span class="t dl" style="left:10.55px;top:1633.68px;transform:scaleX(0.827);color:#000;">V</span><span class="t dn" style="left:41.81px;top:1633.68px;transform:scaleX(0.900);color:#000;">27</span><span class="t nm" style="left:80.03px;top:1632.73px;transform:scaleX(0.986);">Monique</span><span class="t nb" style="left:80.77px;top:1650.77px;transform:scaleX(0.999);">239-<i class="p">1</i>26</span></div>
<div class="r"><span class="t dl" style="left:10.3px;top:1673.03px;transform:scaleX(0.866);color:#000;">S</span><span class="t dn" style="left:41.63px;top:1673.03px;transform:scaleX(0.900);color:#000;">28</span><span class="t nm" style="left:81.37px;top:1672.08px;transform:scaleX(0.986);">Augustin</span><span class="t nb" style="left:80.77px;top:1690.12px;transform:scaleX(0.998);">240-<i class="p">1</i>25</span></div>
<div class="r w s"><span class="t dl" style="left:9.57px;top:1712.37px;transform:scaleX(0.823);">D</span><span class="t dn" style="left:41.71px;top:1712.37px;transform:scaleX(0.900);">29</span><span class="t nm" style="left:80.97px;top:1711.42px;transform:scaleX(0.904);">Sabine</span><span class="t nb" style="left:81.04px;top:1729.46px;transform:scaleX(0.985);">24<i class="o o9">1</i>-<i class="o o9">1</i>24</span></div>
<div class="r"><span class="t dl" style="left:10.43px;top:1751.72px;transform:scaleX(0.864);color:#000;">L</span><span class="t dn" style="left:41.94px;top:1751.72px;transform:scaleX(0.900);color:#000;">30</span><span class="t nm" style="left:80.05px;top:1750.77px;transform:scaleX(0.969);">Fiacre</span><span class="t nb" style="left:80.77px;top:1768.81px;transform:scaleX(0.999);">242-<i class="p">1</i>23</span></div>
<div class="r"><span class="t dl" style="left:8.23px;top:1791.06px;transform:scaleX(0.842);color:#000;">M</span><span class="t dn" style="left:43.97px;top:1791.06px;transform:scaleX(0.900);color:#000;">3<i class="o">1</i></span><span class="t nm" style="left:81.37px;top:1790.11px;transform:scaleX(0.986);">Aristide</span><span class="t nb" style="left:80.77px;top:1808.15px;transform:scaleX(1.001);">243-<i class="p">1</i>22</span><svg class="g" style="left:244.55px;top:1798.8px;color:#2a2a2a" width="17" height="17"><use href="#mN"/></svg></div>
<span class="t ft" style="left:15.6px;top:1833.09px;transform:scaleX(0.866);">JOURS OUVRABLES : 26</span><span class="t ft" style="left:177.4px;top:1833.09px;transform:scaleX(1.020);">-</span><span class="t ft" style="left:186.2px;top:1833.09px;transform:scaleX(0.834);">JOURS OUVRÉS : 22</span>
</div>
<div class="col" style="left:769px;color:#F7AB00;--c:#F7AB00;--l:#F9C44D">
<svg class="g" width="330" height="1972" viewBox="0 0 330 1972"><path d="M0 596.9 V554.2 A18 18 0 0 1 18 536.2 H51 A18 18 0 0 1 69 554.2 V573.4 A18 18 0 0 0 87 591.4 H330 V596.9 Z" fill="#F7AB00"/><rect x="216" y="535.9" width="98" height="1" fill="#F7AB00" opacity=".2"/><rect x="0" y="645.3" width="330" height="1.4" fill="#F7AB00" opacity=".85"/><rect x="0" y="684.64" width="330" height="1.4" fill="#F7AB00" opacity=".85"/><rect x="0" y="723.99" width="330" height="1.4" fill="#F7AB00" opacity=".85"/><rect x="0" y="763.53" width="330" height="40.34" fill="#F7AB00"/><rect x="0" y="842.02" width="330" height="1.4" fill="#F7AB00" opacity=".85"/><rect x="0" y="881.37" width="330" height="1.4" fill="#F7AB00" opacity=".85"/><rect x="0" y="920.71" width="330" height="1.4" fill="#F7AB00" opacity=".85"/><rect x="0" y="960.06" width="330" height="1.4" fill="#F7AB00" opacity=".85"/><rect x="0" y="999.4" width="330" height="1.4" fill="#F7AB00" opacity=".85"/><rect x="0" y="1038.95" width="330" height="40.34" fill="#F7AB00"/><rect x="0" y="1117.44" width="330" height="1.4" fill="#F7AB00" opacity=".85"/><rect x="0" y="1156.78" width="330" height="1.4" fill="#F7AB00" opacity=".85"/><rect x="0" y="1196.13" width="330" height="1.4" fill="#F7AB00" opacity=".85"/><rect x="0" y="1235.47" width="330" height="1.4" fill="#F7AB00" opacity=".85"/><rect x="0" y="1274.82" width="330" height="1.4" fill="#F7AB00" opacity=".85"/><rect x="0" y="1314.37" width="330" height="40.34" fill="#F7AB00"/><rect x="0" y="1392.86" width="330" height="1.4" fill="#F7AB00" opacity=".85"/><rect x="0" y="1432.2" width="330" height="1.4" fill="#F7AB00" opacity=".85"/><rect x="0" y="1471.55" width="330" height="1.4" fill="#F7AB00" opacity=".85"/><rect x="0" y="1510.89" width="330" height="1.4" fill="#F7AB00" opacity=".85"/><rect x="0" y="1550.23" width="330" height="1.4" fill="#F7AB00" opacity=".85"/><rect x="0" y="1589.78" width="330" height="40.34" fill="#F7AB00"/><rect x="0" y="1668.27" width="330" height="1.4" fill="#F7AB00" opacity=".85"/><rect x="0" y="1707.62" width="330" height="1.4" fill="#F7AB00" opacity=".85"/><rect x="0" y="1746.96" width="330" height="1.4" fill="#F7AB00" opacity=".85"/></svg>
<svg class="g" style="left:0px;top:597px;color:#EE7850" width="10" height="10"><use href="#ast"/></svg><svg class="g" style="left:10.05px;top:597px;color:#4E9FDB" width="10" height="10"><use href="#ast"/></svg><svg class="g" style="left:20.1px;top:597px;color:#A0C83C" width="10" height="10"><use href="#ast"/></svg>
<span class="t hn" style="left:9.75px;top:547.48px;">09</span><span class="t ht" style="left:79.93px;top:547.48px;transform:scaleX(0.881);">SEPTEMBRE</span>
<div class="r"><span class="t dl" style="left:8.23px;top:610.71px;transform:scaleX(0.842);color:#000;">M</span><span class="t dn" style="left:51.16px;top:610.71px;transform:scaleX(0.900);color:#000;"><i class="o">1</i></span><span class="t nm" style="left:80.59px;top:609.76px;transform:scaleX(0.953);">Gilles</span><span class="t nb" style="left:80.76px;top:627.8px;transform:scaleX(1.007);">244-<i class="p">1</i>2<i class="p">1</i></span></div>
<div class="r"><span class="t dl" style="left:10.21px;top:650.06px;transform:scaleX(1.064);color:#000;">J</span><span class="t dn" style="left:49.51px;top:650.06px;transform:scaleX(0.900);color:#000;">2</span><span class="t nm" style="left:79.78px;top:649.11px;transform:scaleX(1.037);">Ingrid</span><span class="t nb" style="left:80.77px;top:667.15px;transform:scaleX(0.997);">245-<i class="p">1</i>20</span><span class="t wk" style="left:270.95px;top:651.53px;transform:scaleX(0.940);">35</span></div>
<div class="r"><span class="t dl" style="left:10.55px;top:689.4px;transform:scaleX(0.827);color:#000;">V</span><span class="t dn" style="left:49.63px;top:689.4px;transform:scaleX(0.900);color:#000;">3</span><span class="t nm" style="left:80.59px;top:688.45px;transform:scaleX(0.950);">Grégoire</span><span class="t nb" style="left:80.77px;top:706.49px;transform:scaleX(1.006);">246-<i class="p">1</i><i class="p">1</i>9</span></div>
<div class="r"><span class="t dl" style="left:10.3px;top:728.75px;transform:scaleX(0.866);color:#000;">S</span><span class="t dn" style="left:49.3px;top:728.75px;transform:scaleX(0.900);color:#000;">4</span><span class="t nm" style="left:80.06px;top:727.8px;transform:scaleX(0.964);">Rosalie</span><span class="t nb" style="left:80.77px;top:745.84px;transform:scaleX(1.004);">247-<i class="p">1</i><i class="p">1</i>8</span></div>
<div class="r w s"><span class="t dl" style="left:9.57px;top:768.09px;transform:scaleX(0.823);">D</span><span class="t dn" style="left:49.4px;top:768.09px;transform:scaleX(0.900);">5</span><span class="t nm" style="left:80.4px;top:767.14px;transform:scaleX(0.890);">Raïssa</span><span class="t nb" style="left:81.04px;top:785.18px;transform:scaleX(0.997);">248-<i class="o o9">1</i><i class="o o9">1</i>7</span></div>
<div class="r"><span class="t dl" style="left:10.43px;top:807.44px;transform:scaleX(0.864);color:#000;">L</span><span class="t dn" style="left:49.43px;top:807.44px;transform:scaleX(0.900);color:#000;">6</span><span class="t nm" style="left:80px;top:806.49px;transform:scaleX(1.005);">Bertrand</span><span class="t nb" style="left:80.77px;top:824.53px;transform:scaleX(1.004);">249-<i class="p">1</i><i class="p">1</i>6</span></div>
<div class="r"><span class="t dl" style="left:8.23px;top:846.78px;transform:scaleX(0.842);color:#000;">M</span><span class="t dn" style="left:49.46px;top:846.78px;transform:scaleX(0.900);color:#000;">7</span><span class="t nm" style="left:80.07px;top:845.83px;transform:scaleX(0.954);">Reine</span><span class="t nb" style="left:80.77px;top:863.87px;transform:scaleX(1.004);">250-<i class="p">1</i><i class="p">1</i>5</span><svg class="g" style="left:245.05px;top:854.62px;color:#2a2a2a" width="17" height="17"><use href="#mF"/></svg></div>
<div class="r"><span class="t dl" style="left:8.23px;top:886.13px;transform:scaleX(0.842);color:#000;">M</span><span class="t dn" style="left:49.43px;top:886.13px;transform:scaleX(0.900);color:#000;">8</span><span class="t nm" style="left:80.05px;top:885.18px;transform:scaleX(0.965);">Nativité N.-D.</span><span class="t nb" style="left:80.77px;top:903.22px;transform:scaleX(1.006);">25<i class="p">1</i>-<i class="p">1</i><i class="p">1</i>4</span></div>
<div class="r"><span class="t dl" style="left:10.21px;top:925.47px;transform:scaleX(1.064);color:#000;">J</span><span class="t dn" style="left:49.47px;top:925.47px;transform:scaleX(0.900);color:#000;">9</span><span class="t nm" style="left:81.37px;top:924.52px;transform:scaleX(0.967);">Alain</span><span class="t nb" style="left:80.77px;top:942.56px;transform:scaleX(1.004);">252-<i class="p">1</i><i class="p">1</i>3</span><span class="t wk" style="left:271.06px;top:926.94px;transform:scaleX(0.940);">36</span></div>
<div class="r"><span class="t dl" style="left:10.55px;top:964.82px;transform:scaleX(0.827);color:#000;">V</span><span class="t dn" style="left:42.98px;top:964.82px;transform:scaleX(0.900);color:#000;"><i class="o">1</i>0</span><span class="t nm" style="left:79.85px;top:963.87px;transform:scaleX(0.992);">Inès</span><span class="t nb" style="left:80.76px;top:981.91px;transform:scaleX(1.007);">253-<i class="p">1</i><i class="p">1</i>2</span></div>
<div class="r"><span class="t dl" style="left:10.3px;top:1004.16px;transform:scaleX(0.866);color:#000;">S</span><span class="t dn" style="left:45.02px;top:1004.16px;transform:scaleX(0.900);color:#000;"><i class="o">1</i><i class="o">1</i></span><span class="t nm" style="left:81.37px;top:1003.21px;transform:scaleX(0.958);">Adelphe</span><span class="t nb" style="left:80.76px;top:1021.25px;transform:scaleX(1.014);">254-<i class="p">1</i><i class="p">1</i><i class="p">1</i></span></div>
<div class="r w s"><span class="t dl" style="left:9.57px;top:1043.51px;transform:scaleX(0.823);">D</span><span class="t dn" style="left:42.97px;top:1043.51px;transform:scaleX(0.900);"><i class="o">1</i>2</span><span class="t nm" style="left:81.03px;top:1042.56px;transform:scaleX(0.896);">Apollinaire</span><span class="t nb" style="left:81.04px;top:1060.6px;transform:scaleX(0.996);">255-<i class="o o9">1</i><i class="o o9">1</i>0</span></div>
<div class="r"><span class="t dl" style="left:10.43px;top:1082.85px;transform:scaleX(0.864);color:#000;">L</span><span class="t dn" style="left:42.92px;top:1082.85px;transform:scaleX(0.900);color:#000;"><i class="o">1</i>3</span><span class="t nm" style="left:81.37px;top:1081.9px;transform:scaleX(0.948);">Aimé</span><span class="t nb" style="left:80.77px;top:1099.94px;">256-<i class="p">1</i>09</span></div>
<div class="r"><span class="t dl" style="left:8.23px;top:1122.2px;transform:scaleX(0.842);color:#000;">M</span><span class="t dn" style="left:42.5px;top:1122.2px;transform:scaleX(0.900);color:#000;"><i class="o">1</i>4</span><span class="t nm" style="left:80.6px;top:1121.25px;transform:scaleX(0.935);">Croix Glorieuse</span><span class="t nb" style="left:80.77px;top:1139.29px;transform:scaleX(0.999);">257-<i class="p">1</i>08</span></div>
<div class="r"><span class="t dl" style="left:8.23px;top:1161.54px;transform:scaleX(0.842);color:#000;">M</span><span class="t dn" style="left:42.8px;top:1161.54px;transform:scaleX(0.900);color:#000;"><i class="o">1</i>5</span><span class="t nm" style="left:80.04px;top:1160.59px;transform:scaleX(0.977);">Roland</span><span class="t nb" style="left:80.77px;top:1178.63px;transform:scaleX(1.001);">258-<i class="p">1</i>07</span><svg class="g" style="left:244.55px;top:1169.28px;color:#2a2a2a" width="17" height="17"><use href="#mU"/></svg></div>
<div class="r"><span class="t dl" style="left:10.21px;top:1200.89px;transform:scaleX(1.064);color:#000;">J</span><span class="t dn" style="left:42.92px;top:1200.89px;transform:scaleX(0.900);color:#000;"><i class="o">1</i>6</span><span class="t nm" style="left:79.99px;top:1199.94px;transform:scaleX(1.010);">Édith</span><span class="t nb" style="left:80.77px;top:1217.98px;transform:scaleX(0.999);">259-<i class="p">1</i>06</span><span class="t wk" style="left:271.17px;top:1202.36px;transform:scaleX(0.940);">37</span></div>
<div class="r"><span class="t dl" style="left:10.55px;top:1240.23px;transform:scaleX(0.827);color:#000;">V</span><span class="t dn" style="left:43.03px;top:1240.23px;transform:scaleX(0.900);color:#000;"><i class="o">1</i>7</span><span class="t nm" style="left:80.06px;top:1239.28px;transform:scaleX(0.961);">Renaud</span><span class="t nb" style="left:80.77px;top:1257.32px;transform:scaleX(0.998);">260-<i class="p">1</i>05</span></div>
<div class="r"><span class="t dl" style="left:10.3px;top:1279.58px;transform:scaleX(0.866);color:#000;">S</span><span class="t dn" style="left:42.85px;top:1279.58px;transform:scaleX(0.900);color:#000;"><i class="o">1</i>8</span><span class="t nm" style="left:80.05px;top:1278.63px;transform:scaleX(0.965);">Nadège</span><span class="t nb" style="left:80.77px;top:1296.67px;">26<i class="p">1</i>-<i class="p">1</i>04</span></div>
<div class="r w s"><span class="t dl" style="left:9.57px;top:1318.92px;transform:scaleX(0.823);">D</span><span class="t dn" style="left:42.93px;top:1318.92px;transform:scaleX(0.900);"><i class="o">1</i>9</span><span class="t nm" style="left:80.38px;top:1317.97px;transform:scaleX(0.908);">Émilie</span><span class="t nb" style="left:81.03px;top:1336.01px;transform:scaleX(1.004);">262-<i class="o o9">1</i>03</span></div>
<div class="r"><span class="t dl" style="left:10.43px;top:1358.27px;transform:scaleX(0.864);color:#000;">L</span><span class="t dn" style="left:41.77px;top:1358.27px;transform:scaleX(0.900);color:#000;">20</span><span class="t nm" style="left:80.13px;top:1357.32px;transform:scaleX(0.914);">Davy</span><span class="t nb" style="left:80.77px;top:1375.36px;transform:scaleX(1.001);">263-<i class="p">1</i>02</span></div>
<div class="r"><span class="t dl" style="left:8.23px;top:1397.61px;transform:scaleX(0.842);color:#000;">M</span><span class="t dn" style="left:43.81px;top:1397.61px;transform:scaleX(0.900);color:#000;">2<i class="o">1</i></span><span class="t nm" style="left:79.98px;top:1396.66px;transform:scaleX(1.020);">Matthieu</span><span class="t nb" style="left:80.76px;top:1414.7px;transform:scaleX(1.007);">264-<i class="p">1</i>0<i class="p">1</i></span></div>
<div class="r"><span class="t dl" style="left:8.23px;top:1436.96px;transform:scaleX(0.842);color:#000;">M</span><span class="t dn" style="left:41.76px;top:1436.96px;transform:scaleX(0.900);color:#000;">22</span><span class="t nm" style="left:80.03px;top:1436.01px;transform:scaleX(0.985);">Maurice</span><span class="t nb" style="left:80.77px;top:1454.05px;transform:scaleX(0.997);">265-<i class="p">1</i>00</span></div>
<div class="r"><span class="t dl" style="left:10.21px;top:1476.3px;transform:scaleX(1.064);color:#000;">J</span><span class="t dn" style="left:41.7px;top:1476.3px;transform:scaleX(0.900);color:#000;">23</span><span class="t nm" style="left:81.37px;top:1475.35px;transform:scaleX(0.880);">AUTOMNE</span><span class="t nb" style="left:80.77px;top:1493.39px;">266-99</span><span class="t wk" style="left:270.99px;top:1477.77px;transform:scaleX(0.940);">38</span><svg class="g" style="left:243.55px;top:1484.14px;color:#2a2a2a" width="17" height="17"><use href="#mL"/></svg></div>
<div class="r"><span class="t dl" style="left:10.55px;top:1515.65px;transform:scaleX(0.827);color:#000;">V</span><span class="t dn" style="left:41.28px;top:1515.65px;transform:scaleX(0.900);color:#000;">24</span><span class="t nm" style="left:81.04px;top:1514.7px;transform:scaleX(0.954);">Thècle</span><span class="t nb" style="left:80.77px;top:1532.74px;transform:scaleX(0.999);">267-98</span></div>
<div class="r"><span class="t dl" style="left:10.3px;top:1554.99px;transform:scaleX(0.866);color:#000;">S</span><span class="t dn" style="left:41.59px;top:1554.99px;transform:scaleX(0.900);color:#000;">25</span><span class="t nm" style="left:80.03px;top:1554.04px;transform:scaleX(0.981);">Hermann</span><span class="t nb" style="left:80.77px;top:1572.08px;transform:scaleX(1.001);">268-97</span></div>
<div class="r w s"><span class="t dl" style="left:9.57px;top:1594.34px;transform:scaleX(0.823);">D</span><span class="t dn" style="left:41.7px;top:1594.34px;transform:scaleX(0.900);">26</span><span class="t nm" style="left:80.77px;top:1593.39px;transform:scaleX(0.902);">Côme, Damien</span><span class="t nb" style="left:81.03px;top:1611.43px;transform:scaleX(1.016);">269-96</span></div>
<div class="r"><span class="t dl" style="left:10.43px;top:1633.68px;transform:scaleX(0.864);color:#000;">L</span><span class="t dn" style="left:41.81px;top:1633.68px;transform:scaleX(0.900);color:#000;">27</span><span class="t nm" style="left:81.34px;top:1632.73px;transform:scaleX(0.932);">Vinc. de Paul</span><span class="t nb" style="left:80.77px;top:1650.77px;transform:scaleX(0.998);">270-95</span></div>
<div class="r"><span class="t dl" style="left:8.23px;top:1673.03px;transform:scaleX(0.842);color:#000;">M</span><span class="t dn" style="left:41.63px;top:1673.03px;transform:scaleX(0.900);color:#000;">28</span><span class="t nm" style="left:81.34px;top:1672.08px;transform:scaleX(0.954);">Venceslas</span><span class="t nb" style="left:80.77px;top:1690.12px;">27<i class="p">1</i>-94</span></div>
<div class="r"><span class="t dl" style="left:8.23px;top:1712.37px;transform:scaleX(0.842);color:#000;">M</span><span class="t dn" style="left:41.71px;top:1712.37px;transform:scaleX(0.900);color:#000;">29</span><span class="t nm" style="left:79.99px;top:1711.42px;transform:scaleX(1.011);">Michel</span><span class="t nb" style="left:80.77px;top:1729.46px;transform:scaleX(0.999);">272-93</span></div>
<div class="r"><span class="t dl" style="left:10.21px;top:1751.72px;transform:scaleX(1.064);color:#000;">J</span><span class="t dn" style="left:41.94px;top:1751.72px;transform:scaleX(0.900);color:#000;">30</span><span class="t nm" style="left:81.15px;top:1750.77px;transform:scaleX(0.965);">Jérôme</span><span class="t nb" style="left:80.77px;top:1768.81px;transform:scaleX(1.001);">273-92</span><span class="t wk" style="left:271.07px;top:1753.19px;transform:scaleX(0.940);">39</span><svg class="g" style="left:244.55px;top:1759.46px;color:#2a2a2a" width="17" height="17"><use href="#mN"/></svg></div>
<span class="t ft" style="left:15.6px;top:1833.09px;transform:scaleX(0.866);">JOURS OUVRABLES : 26</span><span class="t ft" style="left:177.4px;top:1833.09px;transform:scaleX(1.020);">-</span><span class="t ft" style="left:186.2px;top:1833.09px;transform:scaleX(0.834);">JOURS OUVRÉS : 22</span>
</div>
<div class="col" style="left:1115px;color:#D08368;--c:#D08368;--l:#DEA895">
<svg class="g" width="330" height="1972" viewBox="0 0 330 1972"><path d="M0 596.9 V554.2 A18 18 0 0 1 18 536.2 H51 A18 18 0 0 1 69 554.2 V573.4 A18 18 0 0 0 87 591.4 H259.3 A18 18 0 0 0 277.3 573.4 V554.2 A18 18 0 0 1 295.3 536.2 H312 A18 18 0 0 1 330 554.2 V596.9 Z" fill="#D08368"/><rect x="0" y="645.3" width="330" height="1.4" fill="#D08368" opacity=".85"/><rect x="0" y="684.85" width="330" height="40.34" fill="#D08368"/><rect x="0" y="763.33" width="330" height="1.4" fill="#D08368" opacity=".85"/><rect x="0" y="802.68" width="330" height="1.4" fill="#D08368" opacity=".85"/><rect x="0" y="842.02" width="330" height="1.4" fill="#D08368" opacity=".85"/><rect x="0" y="881.37" width="330" height="1.4" fill="#D08368" opacity=".85"/><rect x="0" y="920.71" width="330" height="1.4" fill="#D08368" opacity=".85"/><rect x="0" y="960.26" width="330" height="40.34" fill="#D08368"/><rect x="0" y="1038.75" width="330" height="1.4" fill="#D08368" opacity=".85"/><rect x="0" y="1078.09" width="330" height="1.4" fill="#D08368" opacity=".85"/><rect x="0" y="1117.44" width="330" height="1.4" fill="#D08368" opacity=".85"/><rect x="0" y="1156.78" width="330" height="1.4" fill="#D08368" opacity=".85"/><rect x="0" y="1196.13" width="330" height="1.4" fill="#D08368" opacity=".85"/><rect x="0" y="1235.67" width="330" height="40.34" fill="#D08368"/><rect x="0" y="1314.16" width="330" height="1.4" fill="#D08368" opacity=".85"/><rect x="0" y="1353.51" width="330" height="1.4" fill="#D08368" opacity=".85"/><rect x="0" y="1392.86" width="330" height="1.4" fill="#D08368" opacity=".85"/><rect x="0" y="1432.2" width="330" height="1.4" fill="#D08368" opacity=".85"/><rect x="0" y="1471.55" width="330" height="1.4" fill="#D08368" opacity=".85"/><rect x="0" y="1511.09" width="330" height="40.34" fill="#D08368"/><rect x="0" y="1589.58" width="330" height="1.4" fill="#D08368" opacity=".85"/><rect x="0" y="1628.92" width="330" height="1.4" fill="#D08368" opacity=".85"/><rect x="0" y="1668.27" width="330" height="1.4" fill="#D08368" opacity=".85"/><rect x="0" y="1707.62" width="330" height="1.4" fill="#D08368" opacity=".85"/><rect x="0" y="1746.96" width="330" height="1.4" fill="#D08368" opacity=".85"/><rect x="0" y="1786.5" width="330" height="39.14" fill="#D08368"/></svg>
<svg class="g" style="left:0px;top:597px;color:#EE7850" width="10" height="10"><use href="#ast"/></svg><svg class="g" style="left:10.05px;top:597px;color:#4E9FDB" width="10" height="10"><use href="#ast"/></svg><svg class="g" style="left:20.1px;top:597px;color:#A0C83C" width="10" height="10"><use href="#ast"/></svg>
<span class="t hn" style="left:12.59px;top:547.48px;"><i class="o o9">1</i>0</span><span class="t ht" style="left:80.98px;top:547.48px;transform:scaleX(0.850);">OCTOBRE</span>
<div class="r"><span class="t dl" style="left:10.55px;top:610.71px;transform:scaleX(0.827);color:#000;">V</span><span class="t dn" style="left:51.16px;top:610.71px;transform:scaleX(0.900);color:#000;"><i class="o">1</i></span><span class="t nm" style="left:81.05px;top:609.76px;transform:scaleX(0.934);">Thérèse de l'E.-J.</span><span class="t nb" style="left:80.76px;top:627.8px;transform:scaleX(1.008);">274-9<i class="p">1</i></span></div>
<div class="r"><span class="t dl" style="left:10.3px;top:650.06px;transform:scaleX(0.866);color:#000;">S</span><span class="t dn" style="left:49.51px;top:650.06px;transform:scaleX(0.900);color:#000;">2</span><span class="t nm" style="left:80.05px;top:649.11px;transform:scaleX(0.966);">Léger</span><span class="t nb" style="left:80.77px;top:667.15px;transform:scaleX(0.997);">275-90</span></div>
<div class="r w s"><span class="t dl" style="left:9.57px;top:689.4px;transform:scaleX(0.823);">D</span><span class="t dn" style="left:49.63px;top:689.4px;transform:scaleX(0.900);">3</span><span class="t nm" style="left:80.77px;top:688.45px;transform:scaleX(0.904);">Gérard</span><span class="t nb" style="left:81.03px;top:706.49px;transform:scaleX(1.016);">276-89</span></div>
<div class="r"><span class="t dl" style="left:10.43px;top:728.75px;transform:scaleX(0.864);color:#000;">L</span><span class="t dn" style="left:49.3px;top:728.75px;transform:scaleX(0.900);color:#000;">4</span><span class="t nm" style="left:80.07px;top:727.8px;transform:scaleX(0.954);">Fr. d'Assise</span><span class="t nb" style="left:80.77px;top:745.84px;transform:scaleX(0.999);">277-88</span></div>
<div class="r"><span class="t dl" style="left:8.23px;top:768.09px;transform:scaleX(0.842);color:#000;">M</span><span class="t dn" style="left:49.4px;top:768.09px;transform:scaleX(0.900);color:#000;">5</span><span class="t nm" style="left:80.04px;top:767.14px;transform:scaleX(0.974);">Fleur</span><span class="t nb" style="left:80.77px;top:785.18px;transform:scaleX(1.001);">278-87</span></div>
<div class="r"><span class="t dl" style="left:8.23px;top:807.44px;transform:scaleX(0.842);color:#000;">M</span><span class="t dn" style="left:49.43px;top:807.44px;transform:scaleX(0.900);color:#000;">6</span><span class="t nm" style="left:80.02px;top:806.49px;transform:scaleX(0.991);">Bruno</span><span class="t nb" style="left:80.77px;top:824.53px;transform:scaleX(0.999);">279-86</span></div>
<div class="r"><span class="t dl" style="left:10.21px;top:846.78px;transform:scaleX(1.064);color:#000;">J</span><span class="t dn" style="left:49.46px;top:846.78px;transform:scaleX(0.900);color:#000;">7</span><span class="t nm" style="left:80.68px;top:845.83px;transform:scaleX(0.947);">Serge</span><span class="t nb" style="left:80.77px;top:863.87px;transform:scaleX(0.998);">280-85</span><span class="t wk" style="left:271.23px;top:848.25px;transform:scaleX(0.940);">40</span><svg class="g" style="left:245.05px;top:854.62px;color:#2a2a2a" width="17" height="17"><use href="#mF"/></svg></div>
<div class="r"><span class="t dl" style="left:10.55px;top:886.13px;transform:scaleX(0.827);color:#000;">V</span><span class="t dn" style="left:49.43px;top:886.13px;transform:scaleX(0.900);color:#000;">8</span><span class="t nm" style="left:80.04px;top:885.18px;transform:scaleX(0.972);">Pélagie</span><span class="t nb" style="left:80.77px;top:903.22px;">28<i class="p">1</i>-84</span></div>
<div class="r"><span class="t dl" style="left:10.3px;top:925.47px;transform:scaleX(0.866);color:#000;">S</span><span class="t dn" style="left:49.47px;top:925.47px;transform:scaleX(0.900);color:#000;">9</span><span class="t nm" style="left:80.06px;top:924.52px;transform:scaleX(0.963);">Denis</span><span class="t nb" style="left:80.77px;top:942.56px;transform:scaleX(0.999);">282-83</span></div>
<div class="r w s"><span class="t dl" style="left:9.57px;top:964.82px;transform:scaleX(0.823);">D</span><span class="t dn" style="left:42.98px;top:964.82px;transform:scaleX(0.900);"><i class="o">1</i>0</span><span class="t nm" style="left:80.78px;top:963.87px;transform:scaleX(0.887);">Ghislain</span><span class="t nb" style="left:81.03px;top:981.91px;transform:scaleX(1.017);">283-82</span></div>
<div class="r"><span class="t dl" style="left:10.43px;top:1004.16px;transform:scaleX(0.864);color:#000;">L</span><span class="t dn" style="left:45.02px;top:1004.16px;transform:scaleX(0.900);color:#000;"><i class="o">1</i><i class="o">1</i></span><span class="t nm" style="left:80px;top:1003.21px;transform:scaleX(1.006);">Firmin</span><span class="t nb" style="left:80.76px;top:1021.25px;transform:scaleX(1.008);">284-8<i class="p">1</i></span></div>
<div class="r"><span class="t dl" style="left:8.23px;top:1043.51px;transform:scaleX(0.842);color:#000;">M</span><span class="t dn" style="left:42.97px;top:1043.51px;transform:scaleX(0.900);color:#000;"><i class="o">1</i>2</span><span class="t nm" style="left:81.33px;top:1042.56px;transform:scaleX(0.997);">Wilfried</span><span class="t nb" style="left:80.77px;top:1060.6px;transform:scaleX(0.997);">285-80</span></div>
<div class="r"><span class="t dl" style="left:8.23px;top:1082.85px;transform:scaleX(0.842);color:#000;">M</span><span class="t dn" style="left:42.92px;top:1082.85px;transform:scaleX(0.900);color:#000;"><i class="o">1</i>3</span><span class="t nm" style="left:80.6px;top:1081.9px;transform:scaleX(0.942);">Géraud</span><span class="t nb" style="left:80.77px;top:1099.94px;">286-79</span></div>
<div class="r"><span class="t dl" style="left:10.21px;top:1122.2px;transform:scaleX(1.064);color:#000;">J</span><span class="t dn" style="left:42.5px;top:1122.2px;transform:scaleX(0.900);color:#000;"><i class="o">1</i>4</span><span class="t nm" style="left:81.15px;top:1121.25px;transform:scaleX(0.987);">Juste</span><span class="t nb" style="left:80.77px;top:1139.29px;transform:scaleX(0.999);">287-78</span><span class="t wk" style="left:273.46px;top:1123.67px;transform:scaleX(0.940);">4<i class="o o9">1</i></span></div>
<div class="r"><span class="t dl" style="left:10.55px;top:1161.54px;transform:scaleX(0.827);color:#000;">V</span><span class="t dn" style="left:42.8px;top:1161.54px;transform:scaleX(0.900);color:#000;"><i class="o">1</i>5</span><span class="t nm" style="left:81.05px;top:1160.59px;transform:scaleX(0.941);">Thérèse d'Avila</span><span class="t nb" style="left:80.77px;top:1178.63px;transform:scaleX(1.001);">288-77</span><svg class="g" style="left:244.55px;top:1169.28px;color:#2a2a2a" width="17" height="17"><use href="#mU"/></svg></div>
<div class="r"><span class="t dl" style="left:10.3px;top:1200.89px;transform:scaleX(0.866);color:#000;">S</span><span class="t dn" style="left:42.92px;top:1200.89px;transform:scaleX(0.900);color:#000;"><i class="o">1</i>6</span><span class="t nm" style="left:80.05px;top:1199.94px;transform:scaleX(0.968);">Edwige</span><span class="t nb" style="left:80.77px;top:1217.98px;transform:scaleX(0.999);">289-76</span></div>
<div class="r w s"><span class="t dl" style="left:9.57px;top:1240.23px;transform:scaleX(0.823);">D</span><span class="t dn" style="left:43.03px;top:1240.23px;transform:scaleX(0.900);"><i class="o">1</i>7</span><span class="t nm" style="left:80.38px;top:1239.28px;transform:scaleX(0.908);">Baudouin</span><span class="t nb" style="left:81.03px;top:1257.32px;transform:scaleX(1.013);">290-75</span></div>
<div class="r"><span class="t dl" style="left:10.43px;top:1279.58px;transform:scaleX(0.864);color:#000;">L</span><span class="t dn" style="left:42.85px;top:1279.58px;transform:scaleX(0.900);color:#000;"><i class="o">1</i>8</span><span class="t nm" style="left:80.03px;top:1278.63px;transform:scaleX(0.985);">Luc</span><span class="t nb" style="left:80.77px;top:1296.67px;">29<i class="p">1</i>-74</span></div>
<div class="r"><span class="t dl" style="left:8.23px;top:1318.92px;transform:scaleX(0.842);color:#000;">M</span><span class="t dn" style="left:42.93px;top:1318.92px;transform:scaleX(0.900);color:#000;"><i class="o">1</i>9</span><span class="t nm" style="left:80.08px;top:1317.97px;transform:scaleX(0.943);">René</span><span class="t nb" style="left:80.77px;top:1336.01px;transform:scaleX(0.999);">292-73</span></div>
<div class="r"><span class="t dl" style="left:8.23px;top:1358.27px;transform:scaleX(0.842);color:#000;">M</span><span class="t dn" style="left:41.77px;top:1358.27px;transform:scaleX(0.900);color:#000;">20</span><span class="t nm" style="left:81.37px;top:1357.32px;transform:scaleX(0.960);">Adeline</span><span class="t nb" style="left:80.77px;top:1375.36px;transform:scaleX(1.001);">293-72</span></div>
<div class="r"><span class="t dl" style="left:10.21px;top:1397.61px;transform:scaleX(1.064);color:#000;">J</span><span class="t dn" style="left:43.81px;top:1397.61px;transform:scaleX(0.900);color:#000;">2<i class="o">1</i></span><span class="t nm" style="left:80.6px;top:1396.66px;transform:scaleX(0.945);">Céline</span><span class="t nb" style="left:80.76px;top:1414.7px;transform:scaleX(1.008);">294-7<i class="p">1</i></span><span class="t wk" style="left:271.21px;top:1399.08px;transform:scaleX(0.940);">42</span></div>
<div class="r"><span class="t dl" style="left:10.55px;top:1436.96px;transform:scaleX(0.827);color:#000;">V</span><span class="t dn" style="left:41.76px;top:1436.96px;transform:scaleX(0.900);color:#000;">22</span><span class="t nm" style="left:80.04px;top:1436.01px;transform:scaleX(0.973);">Élodie</span><span class="t nb" style="left:80.77px;top:1454.05px;transform:scaleX(0.997);">295-70</span><svg class="g" style="left:243.55px;top:1444.8px;color:#2a2a2a" width="17" height="17"><use href="#mL"/></svg></div>
<div class="r"><span class="t dl" style="left:10.3px;top:1476.3px;transform:scaleX(0.866);color:#000;">S</span><span class="t dn" style="left:41.7px;top:1476.3px;transform:scaleX(0.900);color:#000;">23</span><span class="t nm" style="left:81.17px;top:1475.35px;transform:scaleX(0.910);">Jean de C.</span><span class="t nb" style="left:80.77px;top:1493.39px;">296-69</span></div>
<div class="r w s"><span class="t dl" style="left:9.57px;top:1515.65px;transform:scaleX(0.823);">D</span><span class="t dn" style="left:41.28px;top:1515.65px;transform:scaleX(0.900);">24</span><span class="t nm" style="left:80.37px;top:1514.7px;transform:scaleX(0.921);">Florentin</span><span class="t nb" style="left:81.03px;top:1532.74px;transform:scaleX(1.014);">297-68</span></div>
<div class="r"><span class="t dl" style="left:10.43px;top:1554.99px;transform:scaleX(0.864);color:#000;">L</span><span class="t dn" style="left:41.59px;top:1554.99px;transform:scaleX(0.900);color:#000;">25</span><span class="t nm" style="left:80.05px;top:1554.04px;transform:scaleX(0.970);">Enguerran</span><span class="t nb" style="left:80.77px;top:1572.08px;transform:scaleX(1.001);">298-67</span></div>
<div class="r"><span class="t dl" style="left:8.23px;top:1594.34px;transform:scaleX(0.842);color:#000;">M</span><span class="t dn" style="left:41.7px;top:1594.34px;transform:scaleX(0.900);color:#000;">26</span><span class="t nm" style="left:79.95px;top:1593.39px;transform:scaleX(1.037);">Dimitri</span><span class="t nb" style="left:80.77px;top:1611.43px;transform:scaleX(0.999);">299-66</span></div>
<div class="r"><span class="t dl" style="left:8.23px;top:1633.68px;transform:scaleX(0.842);color:#000;">M</span><span class="t dn" style="left:41.81px;top:1633.68px;transform:scaleX(0.900);color:#000;">27</span><span class="t nm" style="left:80.05px;top:1632.73px;transform:scaleX(0.969);">Émeline</span><span class="t nb" style="left:80.97px;top:1650.77px;transform:scaleX(0.994);">300-65</span></div>
<div class="r"><span class="t dl" style="left:10.21px;top:1673.03px;transform:scaleX(1.064);color:#000;">J</span><span class="t dn" style="left:41.63px;top:1673.03px;transform:scaleX(0.900);color:#000;">28</span><span class="t nm" style="left:80.68px;top:1672.08px;transform:scaleX(0.947);">Simon, Jude</span><span class="t nb" style="left:80.97px;top:1690.12px;transform:scaleX(0.996);">30<i class="p">1</i>-64</span><span class="t wk" style="left:271.16px;top:1674.5px;transform:scaleX(0.940);">43</span></div>
<div class="r"><span class="t dl" style="left:10.55px;top:1712.37px;transform:scaleX(0.827);color:#000;">V</span><span class="t dn" style="left:41.71px;top:1712.37px;transform:scaleX(0.900);color:#000;">29</span><span class="t nm" style="left:80.04px;top:1711.42px;transform:scaleX(0.975);">Narcisse</span><span class="t nb" style="left:80.97px;top:1729.46px;transform:scaleX(0.995);">302-63</span><svg class="g" style="left:244.55px;top:1720.11px;color:#2a2a2a" width="17" height="17"><use href="#mN"/></svg></div>
<div class="r"><span class="t dl" style="left:10.3px;top:1751.72px;transform:scaleX(0.866);color:#000;">S</span><span class="t dn" style="left:41.94px;top:1751.72px;transform:scaleX(0.900);color:#000;">30</span><span class="t nm" style="left:80.06px;top:1750.77px;transform:scaleX(0.964);">Bienvenue</span><span class="t nb" style="left:80.97px;top:1768.81px;transform:scaleX(0.997);">303-62</span></div>
<div class="r w s"><span class="t dl" style="left:9.57px;top:1791.06px;transform:scaleX(0.823);">D</span><span class="t dn" style="left:43.97px;top:1791.06px;transform:scaleX(0.900);">3<i class="o">1</i></span><span class="t nm" style="left:80.77px;top:1790.11px;transform:scaleX(0.906);">Quentin</span><span class="t nb" style="left:81.23px;top:1808.15px;transform:scaleX(1.002);">304-6<i class="o o9">1</i></span></div>
<span class="t ft" style="left:15.6px;top:1833.09px;transform:scaleX(0.866);">JOURS OUVRABLES : 26</span><span class="t ft" style="left:177.4px;top:1833.09px;transform:scaleX(1.020);">-</span><span class="t ft" style="left:186.2px;top:1833.09px;transform:scaleX(0.834);">JOURS OUVRÉS : 21</span>
</div>
<div class="col" style="left:1461px;color:#B8634A;--c:#B8634A;--l:#CB8E78">
<svg class="g" width="330" height="1972" viewBox="0 0 330 1972"><path d="M0 596.9 V554.2 A18 18 0 0 1 18 536.2 H51 A18 18 0 0 1 69 554.2 V573.4 A18 18 0 0 0 87 591.4 H330 V596.9 Z" fill="#B8634A"/><rect x="292" y="535.9" width="22" height="1" fill="#B8634A" opacity=".2"/><rect x="0" y="606.15" width="330" height="40.34" fill="#CB8E78"/><rect x="0" y="684.64" width="330" height="1.4" fill="#B8634A" opacity=".85"/><rect x="0" y="723.99" width="330" height="1.4" fill="#B8634A" opacity=".85"/><rect x="0" y="763.33" width="330" height="1.4" fill="#B8634A" opacity=".85"/><rect x="0" y="802.68" width="330" height="1.4" fill="#B8634A" opacity=".85"/><rect x="0" y="842.22" width="330" height="40.34" fill="#B8634A"/><rect x="0" y="920.71" width="330" height="1.4" fill="#B8634A" opacity=".85"/><rect x="0" y="960.06" width="330" height="1.4" fill="#B8634A" opacity=".85"/><rect x="0" y="999.61" width="330" height="40.34" fill="#CB8E78"/><rect x="0" y="1078.09" width="330" height="1.4" fill="#B8634A" opacity=".85"/><rect x="0" y="1117.64" width="330" height="40.34" fill="#B8634A"/><rect x="0" y="1196.13" width="330" height="1.4" fill="#B8634A" opacity=".85"/><rect x="0" y="1235.47" width="330" height="1.4" fill="#B8634A" opacity=".85"/><rect x="0" y="1274.82" width="330" height="1.4" fill="#B8634A" opacity=".85"/><rect x="0" y="1314.16" width="330" height="1.4" fill="#B8634A" opacity=".85"/><rect x="0" y="1353.51" width="330" height="1.4" fill="#B8634A" opacity=".85"/><rect x="0" y="1393.05" width="330" height="40.34" fill="#B8634A"/><rect x="0" y="1471.55" width="330" height="1.4" fill="#B8634A" opacity=".85"/><rect x="0" y="1510.89" width="330" height="1.4" fill="#B8634A" opacity=".85"/><rect x="0" y="1550.23" width="330" height="1.4" fill="#B8634A" opacity=".85"/><rect x="0" y="1589.58" width="330" height="1.4" fill="#B8634A" opacity=".85"/><rect x="0" y="1628.92" width="330" height="1.4" fill="#B8634A" opacity=".85"/><rect x="0" y="1668.47" width="330" height="40.34" fill="#B8634A"/><rect x="0" y="1746.96" width="330" height="1.4" fill="#B8634A" opacity=".85"/></svg>
<svg class="g" style="left:0px;top:597px;color:#EE7850" width="10" height="10"><use href="#ast"/></svg><svg class="g" style="left:10.05px;top:597px;color:#4E9FDB" width="10" height="10"><use href="#ast"/></svg><svg class="g" style="left:20.1px;top:597px;color:#A0C83C" width="10" height="10"><use href="#ast"/></svg>
<span class="t hn" style="left:16.1px;top:547.48px;"><i class="o o9">1</i><i class="o o9">1</i></span><span class="t ht" style="left:80.49px;top:547.48px;transform:scaleX(0.874);">NOVEMBRE</span>
<div class="r w h"><span class="t dl" style="left:10.43px;top:610.71px;transform:scaleX(0.864);">L</span><span class="t dn" style="left:51.16px;top:610.71px;transform:scaleX(0.900);"><i class="o">1</i></span><span class="t nm" style="left:81.07px;top:609.76px;transform:scaleX(0.892);">TOUSSAINT</span><span class="t nb" style="left:80.96px;top:627.8px;transform:scaleX(1.008);">305-60</span></div>
<div class="r"><span class="t dl" style="left:8.23px;top:650.06px;transform:scaleX(0.842);color:#000;">M</span><span class="t dn" style="left:49.51px;top:650.06px;transform:scaleX(0.900);color:#000;">2</span><span class="t nm" style="left:80.01px;top:649.11px;transform:scaleX(0.994);">Défunts</span><span class="t nb" style="left:80.97px;top:667.15px;transform:scaleX(0.996);">306-59</span></div>
<div class="r"><span class="t dl" style="left:8.23px;top:689.4px;transform:scaleX(0.842);color:#000;">M</span><span class="t dn" style="left:49.63px;top:689.4px;transform:scaleX(0.900);color:#000;">3</span><span class="t nm" style="left:80.01px;top:688.45px;transform:scaleX(0.996);">Hubert</span><span class="t nb" style="left:80.97px;top:706.49px;transform:scaleX(0.995);">307-58</span></div>
<div class="r"><span class="t dl" style="left:10.21px;top:728.75px;transform:scaleX(1.064);color:#000;">J</span><span class="t dn" style="left:49.3px;top:728.75px;transform:scaleX(0.900);color:#000;">4</span><span class="t nm" style="left:80.6px;top:727.8px;transform:scaleX(0.945);">Charles</span><span class="t nb" style="left:80.97px;top:745.84px;transform:scaleX(0.997);">308-57</span><span class="t wk" style="left:270.74px;top:730.22px;transform:scaleX(0.940);">44</span></div>
<div class="r"><span class="t dl" style="left:10.55px;top:768.09px;transform:scaleX(0.827);color:#000;">V</span><span class="t dn" style="left:49.4px;top:768.09px;transform:scaleX(0.900);color:#000;">5</span><span class="t nm" style="left:80.68px;top:767.14px;transform:scaleX(0.945);">Sylvie</span><span class="t nb" style="left:80.97px;top:785.18px;transform:scaleX(0.995);">309-56</span></div>
<div class="r"><span class="t dl" style="left:10.3px;top:807.44px;transform:scaleX(0.866);color:#000;">S</span><span class="t dn" style="left:49.43px;top:807.44px;transform:scaleX(0.900);color:#000;">6</span><span class="t nm" style="left:80.03px;top:806.49px;transform:scaleX(0.980);">Léonard</span><span class="t nb" style="left:80.97px;top:824.53px;">3<i class="p">1</i>0-55</span><svg class="g" style="left:245.05px;top:815.28px;color:#2a2a2a" width="17" height="17"><use href="#mF"/></svg></div>
<div class="r w s"><span class="t dl" style="left:9.57px;top:846.78px;transform:scaleX(0.823);">D</span><span class="t dn" style="left:49.46px;top:846.78px;transform:scaleX(0.900);">7</span><span class="t nm" style="left:80.78px;top:845.83px;transform:scaleX(0.893);">Carine</span><span class="t nb" style="left:81.24px;top:863.87px;transform:scaleX(0.979);">3<i class="o o9">1</i><i class="o o9">1</i>-54</span></div>
<div class="r"><span class="t dl" style="left:10.43px;top:886.13px;transform:scaleX(0.864);color:#000;">L</span><span class="t dn" style="left:49.43px;top:886.13px;transform:scaleX(0.900);color:#000;">8</span><span class="t nm" style="left:80.59px;top:885.18px;transform:scaleX(0.952);">Geoffroy</span><span class="t nb" style="left:80.97px;top:903.22px;">3<i class="p">1</i>2-53</span></div>
<div class="r"><span class="t dl" style="left:8.23px;top:925.47px;transform:scaleX(0.842);color:#000;">M</span><span class="t dn" style="left:49.47px;top:925.47px;transform:scaleX(0.900);color:#000;">9</span><span class="t nm" style="left:81.04px;top:924.52px;transform:scaleX(0.954);">Théodore</span><span class="t nb" style="left:80.97px;top:942.56px;transform:scaleX(1.003);">3<i class="p">1</i>3-52</span></div>
<div class="r"><span class="t dl" style="left:8.23px;top:964.82px;transform:scaleX(0.842);color:#000;">M</span><span class="t dn" style="left:42.98px;top:964.82px;transform:scaleX(0.900);color:#000;"><i class="o">1</i>0</span><span class="t nm" style="left:80.03px;top:963.87px;transform:scaleX(0.983);">Léon</span><span class="t nb" style="left:80.96px;top:981.91px;transform:scaleX(1.011);">3<i class="p">1</i>4-5<i class="p">1</i></span></div>
<div class="r w h"><span class="t dl" style="left:10.21px;top:1004.16px;transform:scaleX(1.064);">J</span><span class="t dn" style="left:45.02px;top:1004.16px;transform:scaleX(0.900);"><i class="o">1</i><i class="o">1</i></span><span class="t nm" style="left:80.34px;top:1003.21px;transform:scaleX(0.763);">MORTS POUR LA FRANCE</span><span class="t nb" style="left:80.96px;top:1021.25px;transform:scaleX(1.014);">3<i class="p">1</i>5-50</span><span class="t wk" style="left:271.05px;top:1005.63px;transform:scaleX(0.940);color:#fff;">45</span></div>
<div class="r"><span class="t dl" style="left:10.55px;top:1043.51px;transform:scaleX(0.827);color:#000;">V</span><span class="t dn" style="left:42.97px;top:1043.51px;transform:scaleX(0.900);color:#000;"><i class="o">1</i>2</span><span class="t nm" style="left:80.57px;top:1042.56px;transform:scaleX(0.981);">Christian</span><span class="t nb" style="left:80.97px;top:1060.6px;transform:scaleX(1.002);">3<i class="p">1</i>6-49</span></div>
<div class="r"><span class="t dl" style="left:10.3px;top:1082.85px;transform:scaleX(0.866);color:#000;">S</span><span class="t dn" style="left:42.92px;top:1082.85px;transform:scaleX(0.900);color:#000;"><i class="o">1</i>3</span><span class="t nm" style="left:80.01px;top:1081.9px;transform:scaleX(0.997);">Brice</span><span class="t nb" style="left:80.97px;top:1099.94px;">3<i class="p">1</i>7-48</span></div>
<div class="r w s"><span class="t dl" style="left:9.57px;top:1122.2px;transform:scaleX(0.823);">D</span><span class="t dn" style="left:42.5px;top:1122.2px;transform:scaleX(0.900);"><i class="o">1</i>4</span><span class="t nm" style="left:80.98px;top:1121.25px;transform:scaleX(0.893);">Sidoine</span><span class="t nb" style="left:81.23px;top:1139.29px;transform:scaleX(1.004);">3<i class="o o9">1</i>8-47</span><svg class="g" style="left:244.55px;top:1129.94px;color:#fff;--mf:rgba(255,255,255,.28);--uf:none;--ml:rgba(255,255,255,.75)" width="17" height="17"><use href="#mU"/></svg></div>
<div class="r"><span class="t dl" style="left:10.43px;top:1161.54px;transform:scaleX(0.864);color:#000;">L</span><span class="t dn" style="left:42.8px;top:1161.54px;transform:scaleX(0.900);color:#000;"><i class="o">1</i>5</span><span class="t nm" style="left:81.37px;top:1160.59px;transform:scaleX(0.976);">Albert</span><span class="t nb" style="left:80.97px;top:1178.63px;">3<i class="p">1</i>9-46</span></div>
<div class="r"><span class="t dl" style="left:8.23px;top:1200.89px;transform:scaleX(0.842);color:#000;">M</span><span class="t dn" style="left:42.92px;top:1200.89px;transform:scaleX(0.900);color:#000;"><i class="o">1</i>6</span><span class="t nm" style="left:80.01px;top:1199.94px;transform:scaleX(0.996);">Marguerite</span><span class="t nb" style="left:80.97px;top:1217.98px;transform:scaleX(0.994);">320-45</span></div>
<div class="r"><span class="t dl" style="left:8.23px;top:1240.23px;transform:scaleX(0.842);color:#000;">M</span><span class="t dn" style="left:43.03px;top:1240.23px;transform:scaleX(0.900);color:#000;"><i class="o">1</i>7</span><span class="t nm" style="left:80.02px;top:1239.28px;transform:scaleX(0.988);">Élisabeth</span><span class="t nb" style="left:80.97px;top:1257.32px;transform:scaleX(0.996);">32<i class="p">1</i>-44</span></div>
<div class="r"><span class="t dl" style="left:10.21px;top:1279.58px;transform:scaleX(1.064);color:#000;">J</span><span class="t dn" style="left:42.85px;top:1279.58px;transform:scaleX(0.900);color:#000;"><i class="o">1</i>8</span><span class="t nm" style="left:81.37px;top:1278.63px;transform:scaleX(0.940);">Aude</span><span class="t nb" style="left:80.97px;top:1296.67px;transform:scaleX(0.995);">322-43</span><span class="t wk" style="left:271.16px;top:1281.05px;transform:scaleX(0.940);">46</span></div>
<div class="r"><span class="t dl" style="left:10.55px;top:1318.92px;transform:scaleX(0.827);color:#000;">V</span><span class="t dn" style="left:42.93px;top:1318.92px;transform:scaleX(0.900);color:#000;"><i class="o">1</i>9</span><span class="t nm" style="left:81.04px;top:1317.97px;transform:scaleX(0.964);">Tanguy</span><span class="t nb" style="left:80.97px;top:1336.01px;transform:scaleX(0.997);">323-42</span></div>
<div class="r"><span class="t dl" style="left:10.3px;top:1358.27px;transform:scaleX(0.866);color:#000;">S</span><span class="t dn" style="left:41.77px;top:1358.27px;transform:scaleX(0.900);color:#000;">20</span><span class="t nm" style="left:80.04px;top:1357.32px;transform:scaleX(0.975);">Edmond</span><span class="t nb" style="left:80.97px;top:1375.36px;transform:scaleX(1.004);">324-4<i class="p">1</i></span></div>
<div class="r w s"><span class="t dl" style="left:9.57px;top:1397.61px;transform:scaleX(0.823);">D</span><span class="t dn" style="left:43.81px;top:1397.61px;transform:scaleX(0.900);">2<i class="o">1</i></span><span class="t nm" style="left:80.79px;top:1396.66px;transform:scaleX(0.882);">Christ Roi</span><span class="t nb" style="left:81.23px;top:1414.7px;transform:scaleX(1.013);">325-40</span><svg class="g" style="left:243.55px;top:1405.45px;color:#fff;--mf:rgba(255,255,255,.28);--uf:none;--ml:rgba(255,255,255,.75)" width="17" height="17"><use href="#mL"/></svg></div>
<div class="r"><span class="t dl" style="left:10.43px;top:1436.96px;transform:scaleX(0.864);color:#000;">L</span><span class="t dn" style="left:41.76px;top:1436.96px;transform:scaleX(0.900);color:#000;">22</span><span class="t nm" style="left:80.6px;top:1436.01px;transform:scaleX(0.946);">Cécile</span><span class="t nb" style="left:80.97px;top:1454.05px;transform:scaleX(0.996);">326-39</span></div>
<div class="r"><span class="t dl" style="left:8.23px;top:1476.3px;transform:scaleX(0.842);color:#000;">M</span><span class="t dn" style="left:41.7px;top:1476.3px;transform:scaleX(0.900);color:#000;">23</span><span class="t nm" style="left:80.59px;top:1475.35px;transform:scaleX(0.958);">Clément</span><span class="t nb" style="left:80.97px;top:1493.39px;transform:scaleX(0.995);">327-38</span></div>
<div class="r"><span class="t dl" style="left:8.23px;top:1515.65px;transform:scaleX(0.842);color:#000;">M</span><span class="t dn" style="left:41.28px;top:1515.65px;transform:scaleX(0.900);color:#000;">24</span><span class="t nm" style="left:80.06px;top:1514.7px;transform:scaleX(0.962);">Flora</span><span class="t nb" style="left:80.97px;top:1532.74px;transform:scaleX(0.997);">328-37</span></div>
<div class="r"><span class="t dl" style="left:10.21px;top:1554.99px;transform:scaleX(1.064);color:#000;">J</span><span class="t dn" style="left:41.59px;top:1554.99px;transform:scaleX(0.900);color:#000;">25</span><span class="t nm" style="left:80.58px;top:1554.04px;transform:scaleX(0.961);">Catherine</span><span class="t nb" style="left:80.97px;top:1572.08px;transform:scaleX(0.995);">329-36</span><span class="t wk" style="left:271.27px;top:1556.46px;transform:scaleX(0.940);">47</span></div>
<div class="r"><span class="t dl" style="left:10.55px;top:1594.34px;transform:scaleX(0.827);color:#000;">V</span><span class="t dn" style="left:41.7px;top:1594.34px;transform:scaleX(0.900);color:#000;">26</span><span class="t nm" style="left:80.04px;top:1593.39px;transform:scaleX(0.977);">Delphine</span><span class="t nb" style="left:80.97px;top:1611.43px;transform:scaleX(0.994);">330-35</span></div>
<div class="r"><span class="t dl" style="left:10.3px;top:1633.68px;transform:scaleX(0.866);color:#000;">S</span><span class="t dn" style="left:41.81px;top:1633.68px;transform:scaleX(0.900);color:#000;">27</span><span class="t nm" style="left:80.67px;top:1632.73px;transform:scaleX(0.954);">Séverin</span><span class="t nb" style="left:80.97px;top:1650.77px;transform:scaleX(0.996);">33<i class="p">1</i>-34</span></div>
<div class="r w s"><span class="t dl" style="left:9.57px;top:1673.03px;transform:scaleX(0.823);">D</span><span class="t dn" style="left:41.63px;top:1673.03px;transform:scaleX(0.900);">28</span><span class="t nm" style="left:81.03px;top:1672.08px;transform:scaleX(0.897);">Avent</span><span class="t nb" style="left:81.23px;top:1690.12px;transform:scaleX(1.012);">332-33</span><svg class="g" style="left:244.55px;top:1680.77px;color:#fff;--mf:rgba(255,255,255,.28);--uf:none;--ml:rgba(255,255,255,.75)" width="17" height="17"><use href="#mN"/></svg></div>
<div class="r"><span class="t dl" style="left:10.43px;top:1712.37px;transform:scaleX(0.864);color:#000;">L</span><span class="t dn" style="left:41.71px;top:1712.37px;transform:scaleX(0.900);color:#000;">29</span><span class="t nm" style="left:80.64px;top:1711.42px;transform:scaleX(0.988);">Saturnin</span><span class="t nb" style="left:80.97px;top:1729.46px;transform:scaleX(0.997);">333-32</span></div>
<div class="r"><span class="t dl" style="left:8.23px;top:1751.72px;transform:scaleX(0.842);color:#000;">M</span><span class="t dn" style="left:41.94px;top:1751.72px;transform:scaleX(0.900);color:#000;">30</span><span class="t nm" style="left:81.37px;top:1750.77px;transform:scaleX(0.952);">André</span><span class="t nb" style="left:80.97px;top:1768.81px;transform:scaleX(1.004);">334-3<i class="p">1</i></span></div>
<span class="t ft" style="left:15.6px;top:1833.09px;transform:scaleX(0.865);">JOURS OUVRABLES : 24</span><span class="t ft" style="left:177.4px;top:1833.09px;transform:scaleX(1.020);">-</span><span class="t ft" style="left:186.21px;top:1833.09px;transform:scaleX(0.833);">JOURS OUVRÉS : 20</span>
</div>
<div class="col" style="left:1807px;color:#AC4F48;--c:#AC4F48;--l:#C47F76">
<svg class="g" width="330" height="1972" viewBox="0 0 330 1972"><path d="M0 596.9 V554.2 A18 18 0 0 1 18 536.2 H51 A18 18 0 0 1 69 554.2 V573.4 A18 18 0 0 0 87 591.4 H330 V596.9 Z" fill="#AC4F48"/><rect x="292" y="535.9" width="22" height="1" fill="#AC4F48" opacity=".2"/><rect x="0" y="645.3" width="330" height="1.4" fill="#AC4F48" opacity=".85"/><rect x="0" y="684.64" width="330" height="1.4" fill="#AC4F48" opacity=".85"/><rect x="0" y="723.99" width="330" height="1.4" fill="#AC4F48" opacity=".85"/><rect x="0" y="763.53" width="330" height="40.34" fill="#AC4F48"/><rect x="0" y="842.02" width="330" height="1.4" fill="#AC4F48" opacity=".85"/><rect x="0" y="881.37" width="330" height="1.4" fill="#AC4F48" opacity=".85"/><rect x="0" y="920.71" width="330" height="1.4" fill="#AC4F48" opacity=".85"/><rect x="0" y="960.06" width="330" height="1.4" fill="#AC4F48" opacity=".85"/><rect x="0" y="999.4" width="330" height="1.4" fill="#AC4F48" opacity=".85"/><rect x="0" y="1038.95" width="330" height="40.34" fill="#AC4F48"/><rect x="0" y="1117.44" width="330" height="1.4" fill="#AC4F48" opacity=".85"/><rect x="0" y="1156.78" width="330" height="1.4" fill="#AC4F48" opacity=".85"/><rect x="0" y="1196.13" width="330" height="1.4" fill="#AC4F48" opacity=".85"/><rect x="0" y="1235.47" width="330" height="1.4" fill="#AC4F48" opacity=".85"/><rect x="0" y="1274.82" width="330" height="1.4" fill="#AC4F48" opacity=".85"/><rect x="0" y="1314.37" width="330" height="40.34" fill="#AC4F48"/><rect x="0" y="1392.86" width="330" height="1.4" fill="#AC4F48" opacity=".85"/><rect x="0" y="1432.2" width="330" height="1.4" fill="#AC4F48" opacity=".85"/><rect x="0" y="1471.55" width="330" height="1.4" fill="#AC4F48" opacity=".85"/><rect x="0" y="1510.89" width="330" height="1.4" fill="#AC4F48" opacity=".85"/><rect x="0" y="1550.43" width="330" height="40.34" fill="#C47F76"/><rect x="0" y="1589.78" width="330" height="40.34" fill="#AC4F48"/><rect x="0" y="1668.27" width="330" height="1.4" fill="#AC4F48" opacity=".85"/><rect x="0" y="1707.62" width="330" height="1.4" fill="#AC4F48" opacity=".85"/><rect x="0" y="1746.96" width="330" height="1.4" fill="#AC4F48" opacity=".85"/><rect x="0" y="1786.3" width="330" height="1.4" fill="#AC4F48" opacity=".85"/></svg>
<svg class="g" style="left:0px;top:597px;color:#EE7850" width="10" height="10"><use href="#ast"/></svg><svg class="g" style="left:10.05px;top:597px;color:#4E9FDB" width="10" height="10"><use href="#ast"/></svg><svg class="g" style="left:20.1px;top:597px;color:#A0C83C" width="10" height="10"><use href="#ast"/></svg>
<span class="t hn" style="left:12.57px;top:547.48px;"><i class="o o9">1</i>2</span><span class="t ht" style="left:81.02px;top:547.48px;transform:scaleX(0.863);">DÉCEMBRE</span>
<div class="r"><span class="t dl" style="left:8.23px;top:610.71px;transform:scaleX(0.842);color:#000;">M</span><span class="t dn" style="left:51.16px;top:610.71px;transform:scaleX(0.900);color:#000;"><i class="o">1</i></span><span class="t nm" style="left:80.04px;top:609.76px;transform:scaleX(0.974);">Florence</span><span class="t nb" style="left:80.97px;top:627.8px;transform:scaleX(0.993);">335-30</span></div>
<div class="r"><span class="t dl" style="left:10.21px;top:650.06px;transform:scaleX(1.064);color:#000;">J</span><span class="t dn" style="left:49.51px;top:650.06px;transform:scaleX(0.900);color:#000;">2</span><span class="t nm" style="left:81.34px;top:649.11px;transform:scaleX(0.940);">Viviane</span><span class="t nb" style="left:80.97px;top:667.15px;transform:scaleX(0.996);">336-29</span><span class="t wk" style="left:271.09px;top:651.53px;transform:scaleX(0.940);">48</span></div>
<div class="r"><span class="t dl" style="left:10.55px;top:689.4px;transform:scaleX(0.827);color:#000;">V</span><span class="t dn" style="left:49.63px;top:689.4px;transform:scaleX(0.900);color:#000;">3</span><span class="t nm" style="left:80.07px;top:688.45px;transform:scaleX(0.953);">François Xav.</span><span class="t nb" style="left:80.97px;top:706.49px;transform:scaleX(0.995);">337-28</span></div>
<div class="r"><span class="t dl" style="left:10.3px;top:728.75px;transform:scaleX(0.866);color:#000;">S</span><span class="t dn" style="left:49.3px;top:728.75px;transform:scaleX(0.900);color:#000;">4</span><span class="t nm" style="left:80.06px;top:727.8px;transform:scaleX(0.961);">Barbara</span><span class="t nb" style="left:80.97px;top:745.84px;transform:scaleX(0.997);">338-27</span></div>
<div class="r w s"><span class="t dl" style="left:9.57px;top:768.09px;transform:scaleX(0.823);">D</span><span class="t dn" style="left:49.4px;top:768.09px;transform:scaleX(0.900);">5</span><span class="t nm" style="left:80.77px;top:767.14px;transform:scaleX(0.907);">Gérald</span><span class="t nb" style="left:81.23px;top:785.18px;transform:scaleX(1.012);">339-26</span></div>
<div class="r"><span class="t dl" style="left:10.43px;top:807.44px;transform:scaleX(0.864);color:#000;">L</span><span class="t dn" style="left:49.43px;top:807.44px;transform:scaleX(0.900);color:#000;">6</span><span class="t nm" style="left:80.02px;top:806.49px;transform:scaleX(0.986);">Nicolas</span><span class="t nb" style="left:80.97px;top:824.53px;transform:scaleX(0.994);">340-25</span><svg class="g" style="left:245.05px;top:815.28px;color:#2a2a2a" width="17" height="17"><use href="#mF"/></svg></div>
<div class="r"><span class="t dl" style="left:8.23px;top:846.78px;transform:scaleX(0.842);color:#000;">M</span><span class="t dn" style="left:49.46px;top:846.78px;transform:scaleX(0.900);color:#000;">7</span><span class="t nm" style="left:81.37px;top:845.83px;transform:scaleX(0.964);">Ambroise</span><span class="t nb" style="left:80.97px;top:863.87px;transform:scaleX(0.996);">34<i class="p">1</i>-24</span></div>
<div class="r"><span class="t dl" style="left:8.23px;top:886.13px;transform:scaleX(0.842);color:#000;">M</span><span class="t dn" style="left:49.43px;top:886.13px;transform:scaleX(0.900);color:#000;">8</span><span class="t nm" style="left:79.89px;top:885.18px;transform:scaleX(0.967);">Imm. Conception</span><span class="t nb" style="left:80.97px;top:903.22px;transform:scaleX(0.995);">342-23</span></div>
<div class="r"><span class="t dl" style="left:10.21px;top:925.47px;transform:scaleX(1.064);color:#000;">J</span><span class="t dn" style="left:49.47px;top:925.47px;transform:scaleX(0.900);color:#000;">9</span><span class="t nm" style="left:80.07px;top:924.52px;transform:scaleX(0.957);">Pierre Fourier</span><span class="t nb" style="left:80.97px;top:942.56px;transform:scaleX(0.997);">343-22</span><span class="t wk" style="left:271.17px;top:926.94px;transform:scaleX(0.940);">49</span></div>
<div class="r"><span class="t dl" style="left:10.55px;top:964.82px;transform:scaleX(0.827);color:#000;">V</span><span class="t dn" style="left:42.98px;top:964.82px;transform:scaleX(0.900);color:#000;"><i class="o">1</i>0</span><span class="t nm" style="left:80.04px;top:963.87px;transform:scaleX(0.976);">Eulalie</span><span class="t nb" style="left:80.97px;top:981.91px;transform:scaleX(1.004);">344-2<i class="p">1</i></span></div>
<div class="r"><span class="t dl" style="left:10.3px;top:1004.16px;transform:scaleX(0.866);color:#000;">S</span><span class="t dn" style="left:45.02px;top:1004.16px;transform:scaleX(0.900);color:#000;"><i class="o">1</i><i class="o">1</i></span><span class="t nm" style="left:80.03px;top:1003.21px;transform:scaleX(0.981);">Daniel</span><span class="t nb" style="left:80.97px;top:1021.25px;transform:scaleX(0.993);">345-20</span></div>
<div class="r w s"><span class="t dl" style="left:9.57px;top:1043.51px;transform:scaleX(0.823);">D</span><span class="t dn" style="left:42.97px;top:1043.51px;transform:scaleX(0.900);"><i class="o">1</i>2</span><span class="t nm" style="left:80.77px;top:1042.56px;transform:scaleX(0.904);">Corentin</span><span class="t nb" style="left:81.23px;top:1060.6px;transform:scaleX(1.002);">346-<i class="o o9">1</i>9</span></div>
<div class="r"><span class="t dl" style="left:10.43px;top:1082.85px;transform:scaleX(0.864);color:#000;">L</span><span class="t dn" style="left:42.92px;top:1082.85px;transform:scaleX(0.900);color:#000;"><i class="o">1</i>3</span><span class="t nm" style="left:80.02px;top:1081.9px;transform:scaleX(0.987);">Lucie</span><span class="t nb" style="left:80.97px;top:1099.94px;">347-<i class="p">1</i>8</span><svg class="g" style="left:244.55px;top:1090.6px;color:#2a2a2a" width="17" height="17"><use href="#mU"/></svg></div>
<div class="r"><span class="t dl" style="left:8.23px;top:1122.2px;transform:scaleX(0.842);color:#000;">M</span><span class="t dn" style="left:42.5px;top:1122.2px;transform:scaleX(0.900);color:#000;"><i class="o">1</i>4</span><span class="t nm" style="left:80.64px;top:1121.25px;transform:scaleX(0.948);">Odile</span><span class="t nb" style="left:80.97px;top:1139.29px;transform:scaleX(1.003);">348-<i class="p">1</i>7</span></div>
<div class="r"><span class="t dl" style="left:8.23px;top:1161.54px;transform:scaleX(0.842);color:#000;">M</span><span class="t dn" style="left:42.8px;top:1161.54px;transform:scaleX(0.900);color:#000;"><i class="o">1</i>5</span><span class="t nm" style="left:80.01px;top:1160.59px;">Ninon</span><span class="t nb" style="left:80.97px;top:1178.63px;">349-<i class="p">1</i>6</span></div>
<div class="r"><span class="t dl" style="left:10.21px;top:1200.89px;transform:scaleX(1.064);color:#000;">J</span><span class="t dn" style="left:42.92px;top:1200.89px;transform:scaleX(0.900);color:#000;"><i class="o">1</i>6</span><span class="t nm" style="left:81.37px;top:1199.94px;transform:scaleX(0.961);">Alice</span><span class="t nb" style="left:80.97px;top:1217.98px;">350-<i class="p">1</i>5</span><span class="t wk" style="left:271.02px;top:1202.36px;transform:scaleX(0.940);">50</span></div>
<div class="r"><span class="t dl" style="left:10.55px;top:1240.23px;transform:scaleX(0.827);color:#000;">V</span><span class="t dn" style="left:43.03px;top:1240.23px;transform:scaleX(0.900);color:#000;"><i class="o">1</i>7</span><span class="t nm" style="left:81.16px;top:1239.28px;transform:scaleX(0.939);">Judicaël, Gaël</span><span class="t nb" style="left:80.97px;top:1257.32px;transform:scaleX(1.002);">35<i class="p">1</i>-<i class="p">1</i>4</span></div>
<div class="r"><span class="t dl" style="left:10.3px;top:1279.58px;transform:scaleX(0.866);color:#000;">S</span><span class="t dn" style="left:42.85px;top:1279.58px;transform:scaleX(0.900);color:#000;"><i class="o">1</i>8</span><span class="t nm" style="left:80.59px;top:1278.63px;transform:scaleX(0.957);">Gatien</span><span class="t nb" style="left:80.97px;top:1296.67px;">352-<i class="p">1</i>3</span></div>
<div class="r w s"><span class="t dl" style="left:9.57px;top:1318.92px;transform:scaleX(0.823);">D</span><span class="t dn" style="left:42.93px;top:1318.92px;transform:scaleX(0.900);"><i class="o">1</i>9</span><span class="t nm" style="left:80.46px;top:1317.97px;transform:scaleX(0.922);">Urbain</span><span class="t nb" style="left:81.23px;top:1336.01px;transform:scaleX(1.003);">353-<i class="o o9">1</i>2</span></div>
<div class="r"><span class="t dl" style="left:10.43px;top:1358.27px;transform:scaleX(0.864);color:#000;">L</span><span class="t dn" style="left:41.77px;top:1358.27px;transform:scaleX(0.900);color:#000;">20</span><span class="t nm" style="left:81.04px;top:1357.32px;transform:scaleX(0.964);">Théophile</span><span class="t nb" style="left:80.96px;top:1375.36px;transform:scaleX(1.011);">354-<i class="p">1</i><i class="p">1</i></span><svg class="g" style="left:243.55px;top:1366.11px;color:#2a2a2a" width="17" height="17"><use href="#mL"/></svg></div>
<div class="r"><span class="t dl" style="left:8.23px;top:1397.61px;transform:scaleX(0.842);color:#000;">M</span><span class="t dn" style="left:43.81px;top:1397.61px;transform:scaleX(0.900);color:#000;">2<i class="o">1</i></span><span class="t nm" style="left:80.1px;top:1396.66px;transform:scaleX(0.930);">Pierre C.</span><span class="t nb" style="left:80.97px;top:1414.7px;transform:scaleX(0.999);">355-<i class="p">1</i>0</span></div>
<div class="r"><span class="t dl" style="left:8.23px;top:1436.96px;transform:scaleX(0.842);color:#000;">M</span><span class="t dn" style="left:41.76px;top:1436.96px;transform:scaleX(0.900);color:#000;">22</span><span class="t nm" style="left:80.16px;top:1436.01px;transform:scaleX(0.891);">HIVER</span><span class="t nb" style="left:80.97px;top:1454.05px;transform:scaleX(1.003);">356-9</span></div>
<div class="r"><span class="t dl" style="left:10.21px;top:1476.3px;transform:scaleX(1.064);color:#000;">J</span><span class="t dn" style="left:41.7px;top:1476.3px;transform:scaleX(0.900);color:#000;">23</span><span class="t nm" style="left:81.37px;top:1475.35px;transform:scaleX(0.965);">Armand</span><span class="t nb" style="left:80.97px;top:1493.39px;">357-8</span><span class="t wk" style="left:273.26px;top:1477.77px;transform:scaleX(0.940);">5<i class="o o9">1</i></span></div>
<div class="r"><span class="t dl" style="left:10.55px;top:1515.65px;transform:scaleX(0.827);color:#000;">V</span><span class="t dn" style="left:41.28px;top:1515.65px;transform:scaleX(0.900);color:#000;">24</span><span class="t nm" style="left:81.37px;top:1514.7px;transform:scaleX(0.947);">Adèle</span><span class="t nb" style="left:80.97px;top:1532.74px;transform:scaleX(1.004);">358-7</span></div>
<div class="r w h"><span class="t dl" style="left:10.3px;top:1554.99px;transform:scaleX(0.866);">S</span><span class="t dn" style="left:41.59px;top:1554.99px;transform:scaleX(0.900);">25</span><span class="t nm" style="left:80.15px;top:1554.04px;transform:scaleX(0.894);">NOËL</span><span class="t nb" style="left:80.96px;top:1572.08px;transform:scaleX(1.016);">359-6</span></div>
<div class="r w s"><span class="t dl" style="left:9.57px;top:1594.34px;transform:scaleX(0.823);">D</span><span class="t dn" style="left:41.7px;top:1594.34px;transform:scaleX(0.900);">26</span><span class="t nm" style="left:80.97px;top:1593.39px;transform:scaleX(0.911);">Sainte Famille</span><span class="t nb" style="left:81.23px;top:1611.43px;transform:scaleX(1.013);">360-5</span></div>
<div class="r"><span class="t dl" style="left:10.43px;top:1633.68px;transform:scaleX(0.864);color:#000;">L</span><span class="t dn" style="left:41.81px;top:1633.68px;transform:scaleX(0.900);color:#000;">27</span><span class="t nm" style="left:81.16px;top:1632.73px;transform:scaleX(0.957);">Jean</span><span class="t nb" style="left:80.97px;top:1650.77px;transform:scaleX(1.003);">36<i class="p">1</i>-4</span><svg class="g" style="left:244.55px;top:1641.42px;color:#2a2a2a" width="17" height="17"><use href="#mN"/></svg></div>
<div class="r"><span class="t dl" style="left:8.23px;top:1673.03px;transform:scaleX(0.842);color:#000;">M</span><span class="t dn" style="left:41.63px;top:1673.03px;transform:scaleX(0.900);color:#000;">28</span><span class="t nm" style="left:79.84px;top:1672.08px;transform:scaleX(0.997);">Innocents</span><span class="t nb" style="left:80.97px;top:1690.12px;">362-3</span></div>
<div class="r"><span class="t dl" style="left:8.23px;top:1712.37px;transform:scaleX(0.842);color:#000;">M</span><span class="t dn" style="left:41.71px;top:1712.37px;transform:scaleX(0.900);color:#000;">29</span><span class="t nm" style="left:80.05px;top:1711.42px;transform:scaleX(0.968);">David</span><span class="t nb" style="left:80.97px;top:1729.46px;transform:scaleX(1.004);">363-2</span></div>
<div class="r"><span class="t dl" style="left:10.21px;top:1751.72px;transform:scaleX(1.064);color:#000;">J</span><span class="t dn" style="left:41.94px;top:1751.72px;transform:scaleX(0.900);color:#000;">30</span><span class="t nm" style="left:80.07px;top:1750.77px;transform:scaleX(0.954);">Roger</span><span class="t nb" style="left:80.96px;top:1768.81px;transform:scaleX(1.013);">364-<i class="p">1</i></span><span class="t wk" style="left:271px;top:1753.19px;transform:scaleX(0.940);">52</span></div>
<div class="r"><span class="t dl" style="left:10.55px;top:1791.06px;transform:scaleX(0.827);color:#000;">V</span><span class="t dn" style="left:43.97px;top:1791.06px;transform:scaleX(0.900);color:#000;">3<i class="o">1</i></span><span class="t nm" style="left:80.66px;top:1790.11px;transform:scaleX(0.964);">Sylvestre</span><span class="t nb" style="left:80.97px;top:1808.15px;transform:scaleX(0.999);">365-0</span></div>
<span class="t ft" style="left:15.6px;top:1833.09px;transform:scaleX(0.866);">JOURS OUVRABLES : 26</span><span class="t ft" style="left:177.4px;top:1833.09px;transform:scaleX(1.020);">-</span><span class="t ft" style="left:186.21px;top:1833.09px;transform:scaleX(0.833);">JOURS OUVRÉS : 23</span>
</div>
<div class="col" style="left:2153px;color:#36739A;--c:#36739A;--l:#7898B8">
<svg class="g" width="330" height="1972" viewBox="0 0 330 1972"><path d="M0 596.9 V554.2 A18 18 0 0 1 18 536.2 H51 A18 18 0 0 1 69 554.2 V573.4 A18 18 0 0 0 87 591.4 H176.6 A18 18 0 0 0 194.6 573.4 V554.2 A18 18 0 0 1 212.6 536.2 H312 A18 18 0 0 1 330 554.2 V596.9 Z" fill="#36739A"/><rect x="0" y="606.15" width="330" height="40.34" fill="#7898B8"/><rect x="0" y="645.5" width="330" height="40.34" fill="#36739A"/><rect x="0" y="723.99" width="330" height="1.4" fill="#36739A" opacity=".85"/><rect x="0" y="763.33" width="330" height="1.4" fill="#36739A" opacity=".85"/><rect x="0" y="802.68" width="330" height="1.4" fill="#36739A" opacity=".85"/><rect x="0" y="842.02" width="330" height="1.4" fill="#36739A" opacity=".85"/><rect x="0" y="881.37" width="330" height="1.4" fill="#36739A" opacity=".85"/><rect x="0" y="920.91" width="330" height="40.34" fill="#36739A"/><rect x="0" y="999.4" width="330" height="1.4" fill="#36739A" opacity=".85"/><rect x="0" y="1038.75" width="330" height="1.4" fill="#36739A" opacity=".85"/><rect x="0" y="1078.09" width="330" height="1.4" fill="#36739A" opacity=".85"/><rect x="0" y="1117.44" width="330" height="1.4" fill="#36739A" opacity=".85"/><rect x="0" y="1156.78" width="330" height="1.4" fill="#36739A" opacity=".85"/><rect x="0" y="1196.33" width="330" height="40.34" fill="#36739A"/><rect x="0" y="1274.82" width="330" height="1.4" fill="#36739A" opacity=".85"/><rect x="0" y="1314.16" width="330" height="1.4" fill="#36739A" opacity=".85"/><rect x="0" y="1353.51" width="330" height="1.4" fill="#36739A" opacity=".85"/><rect x="0" y="1392.86" width="330" height="1.4" fill="#36739A" opacity=".85"/><rect x="0" y="1432.2" width="330" height="1.4" fill="#36739A" opacity=".85"/><rect x="0" y="1471.74" width="330" height="40.34" fill="#36739A"/><rect x="0" y="1550.23" width="330" height="1.4" fill="#36739A" opacity=".85"/><rect x="0" y="1589.58" width="330" height="1.4" fill="#36739A" opacity=".85"/><rect x="0" y="1628.92" width="330" height="1.4" fill="#36739A" opacity=".85"/><rect x="0" y="1668.27" width="330" height="1.4" fill="#36739A" opacity=".85"/><rect x="0" y="1707.62" width="330" height="1.4" fill="#36739A" opacity=".85"/><rect x="0" y="1747.16" width="330" height="40.34" fill="#36739A"/></svg>
<svg class="g" style="left:0px;top:597px;color:#EE7850" width="10" height="10"><use href="#ast"/></svg><svg class="g" style="left:10.05px;top:597px;color:#4E9FDB" width="10" height="10"><use href="#ast"/></svg><svg class="g" style="left:20.1px;top:597px;color:#A0C83C" width="10" height="10"><use href="#ast"/></svg>
<span class="t hn" style="left:13.34px;top:547.48px;">0<i class="o o9">1</i></span><span class="t ht" style="left:83.87px;top:547.48px;transform:scaleX(0.969);">JAN.</span><span class="t hy" style="left:213.8px;top:547.48px;transform:scaleX(1.017);">2028</span>
<div class="r w h"><span class="t dl" style="left:10.3px;top:610.71px;transform:scaleX(0.866);">S</span><span class="t dn" style="left:51.16px;top:610.71px;transform:scaleX(0.900);"><i class="o">1</i></span><span class="t nm" style="left:81.17px;top:609.76px;transform:scaleX(0.895);">JOUR DE L'AN</span><span class="t nb" style="left:80.73px;top:627.8px;transform:scaleX(1.029);"><i class="p">1</i>-365</span></div>
<div class="r w s"><span class="t dl" style="left:9.57px;top:650.06px;transform:scaleX(0.823);">D</span><span class="t dn" style="left:49.51px;top:650.06px;transform:scaleX(0.900);">2</span><span class="t nm" style="left:80.38px;top:649.11px;transform:scaleX(0.905);">Épiphanie</span><span class="t nb" style="left:81.03px;top:667.15px;transform:scaleX(1.009);">2-364</span></div>
<div class="r"><span class="t dl" style="left:10.43px;top:689.4px;transform:scaleX(0.864);color:#000;">L</span><span class="t dn" style="left:49.63px;top:689.4px;transform:scaleX(0.900);color:#000;">3</span><span class="t nm" style="left:80.61px;top:688.45px;transform:scaleX(0.924);">Geneviève</span><span class="t nb" style="left:80.97px;top:706.49px;">3-363</span></div>
<div class="r"><span class="t dl" style="left:8.23px;top:728.75px;transform:scaleX(0.842);color:#000;">M</span><span class="t dn" style="left:49.3px;top:728.75px;transform:scaleX(0.900);color:#000;">4</span><span class="t nm" style="left:80.63px;top:727.8px;transform:scaleX(0.967);">Odilon</span><span class="t nb" style="left:81.24px;top:745.84px;transform:scaleX(0.997);">4-362</span></div>
<div class="r"><span class="t dl" style="left:8.23px;top:768.09px;transform:scaleX(0.842);color:#000;">M</span><span class="t dn" style="left:49.4px;top:768.09px;transform:scaleX(0.900);color:#000;">5</span><span class="t nm" style="left:80.05px;top:767.14px;transform:scaleX(0.971);">Édouard</span><span class="t nb" style="left:80.93px;top:785.18px;transform:scaleX(1.014);">5-36<i class="p">1</i></span><svg class="g" style="left:245.05px;top:775.93px;color:#2a2a2a" width="17" height="17"><use href="#mF"/></svg></div>
<div class="r"><span class="t dl" style="left:10.21px;top:807.44px;transform:scaleX(1.064);color:#000;">J</span><span class="t dn" style="left:49.43px;top:807.44px;transform:scaleX(0.900);color:#000;">6</span><span class="t nm" style="left:80.03px;top:806.49px;transform:scaleX(0.982);">Melaine</span><span class="t nb" style="left:80.77px;top:824.53px;transform:scaleX(1.004);">6-360</span><span class="t wk" style="left:280.3px;top:808.91px;transform:scaleX(0.940);"><i class="o o9">1</i></span></div>
<div class="r"><span class="t dl" style="left:10.55px;top:846.78px;transform:scaleX(0.827);color:#000;">V</span><span class="t dn" style="left:49.46px;top:846.78px;transform:scaleX(0.900);color:#000;">7</span><span class="t nm" style="left:80.06px;top:845.83px;transform:scaleX(0.963);">Raymond</span><span class="t nb" style="left:80.75px;top:863.87px;transform:scaleX(1.008);">7-359</span></div>
<div class="r"><span class="t dl" style="left:10.3px;top:886.13px;transform:scaleX(0.866);color:#000;">S</span><span class="t dn" style="left:49.43px;top:886.13px;transform:scaleX(0.900);color:#000;">8</span><span class="t nm" style="left:80.02px;top:885.18px;transform:scaleX(0.992);">Lucien</span><span class="t nb" style="left:80.88px;top:903.22px;transform:scaleX(1.003);">8-358</span></div>
<div class="r w s"><span class="t dl" style="left:9.57px;top:925.47px;transform:scaleX(0.823);">D</span><span class="t dn" style="left:49.47px;top:925.47px;transform:scaleX(0.900);">9</span><span class="t nm" style="left:81.06px;top:924.52px;transform:scaleX(0.832);">Alix</span><span class="t nb" style="left:81.02px;top:942.56px;transform:scaleX(1.024);">9-357</span></div>
<div class="r"><span class="t dl" style="left:10.43px;top:964.82px;transform:scaleX(0.864);color:#000;">L</span><span class="t dn" style="left:42.98px;top:964.82px;transform:scaleX(0.900);color:#000;"><i class="o">1</i>0</span><span class="t nm" style="left:80.58px;top:963.87px;transform:scaleX(0.963);">Guillaume</span><span class="t nb" style="left:80.75px;top:981.91px;transform:scaleX(1.005);"><i class="p">1</i>0-356</span></div>
<div class="r"><span class="t dl" style="left:8.23px;top:1004.16px;transform:scaleX(0.842);color:#000;">M</span><span class="t dn" style="left:45.02px;top:1004.16px;transform:scaleX(0.900);color:#000;"><i class="o">1</i><i class="o">1</i></span><span class="t nm" style="left:80.01px;top:1003.21px;transform:scaleX(0.995);">Paulin</span><span class="t nb" style="left:80.74px;top:1021.25px;transform:scaleX(1.012);"><i class="p">1</i><i class="p">1</i>-355</span></div>
<div class="r"><span class="t dl" style="left:8.23px;top:1043.51px;transform:scaleX(0.842);color:#000;">M</span><span class="t dn" style="left:42.97px;top:1043.51px;transform:scaleX(0.900);color:#000;"><i class="o">1</i>2</span><span class="t nm" style="left:81.03px;top:1042.56px;transform:scaleX(0.979);">Tatiana</span><span class="t nb" style="left:80.75px;top:1060.6px;"><i class="p">1</i>2-354</span><svg class="g" style="left:244.55px;top:1051.25px;color:#2a2a2a" width="17" height="17"><use href="#mU"/></svg></div>
<div class="r"><span class="t dl" style="left:10.21px;top:1082.85px;transform:scaleX(1.064);color:#000;">J</span><span class="t dn" style="left:42.92px;top:1082.85px;transform:scaleX(0.900);color:#000;"><i class="o">1</i>3</span><span class="t nm" style="left:81.03px;top:1081.9px;transform:scaleX(0.981);">Yvette</span><span class="t nb" style="left:80.75px;top:1099.94px;transform:scaleX(1.005);"><i class="p">1</i>3-353</span><span class="t wk" style="left:278.66px;top:1084.32px;transform:scaleX(0.940);">2</span></div>
<div class="r"><span class="t dl" style="left:10.55px;top:1122.2px;transform:scaleX(0.827);color:#000;">V</span><span class="t dn" style="left:42.5px;top:1122.2px;transform:scaleX(0.900);color:#000;"><i class="o">1</i>4</span><span class="t nm" style="left:80.06px;top:1121.25px;transform:scaleX(0.962);">Nina</span><span class="t nb" style="left:80.75px;top:1139.29px;transform:scaleX(1.008);"><i class="p">1</i>4-352</span></div>
<div class="r"><span class="t dl" style="left:10.3px;top:1161.54px;transform:scaleX(0.866);color:#000;">S</span><span class="t dn" style="left:42.8px;top:1161.54px;transform:scaleX(0.900);color:#000;"><i class="o">1</i>5</span><span class="t nm" style="left:80.04px;top:1160.59px;transform:scaleX(0.977);">Remi</span><span class="t nb" style="left:80.74px;top:1178.63px;transform:scaleX(1.016);"><i class="p">1</i>5-35<i class="p">1</i></span></div>
<div class="r w s"><span class="t dl" style="left:9.57px;top:1200.89px;transform:scaleX(0.823);">D</span><span class="t dn" style="left:42.92px;top:1200.89px;transform:scaleX(0.900);"><i class="o">1</i>6</span><span class="t nm" style="left:80.33px;top:1199.94px;transform:scaleX(0.952);">Marcel</span><span class="t nb" style="left:80.27px;top:1217.98px;transform:scaleX(1.023);"><i class="o o9">1</i>6-350</span></div>
<div class="r"><span class="t dl" style="left:10.43px;top:1240.23px;transform:scaleX(0.864);color:#000;">L</span><span class="t dn" style="left:43.03px;top:1240.23px;transform:scaleX(0.900);color:#000;"><i class="o">1</i>7</span><span class="t nm" style="left:80.05px;top:1239.28px;transform:scaleX(0.967);">Roseline</span><span class="t nb" style="left:80.75px;top:1257.32px;transform:scaleX(1.007);"><i class="p">1</i>7-349</span></div>
<div class="r"><span class="t dl" style="left:8.23px;top:1279.58px;transform:scaleX(0.842);color:#000;">M</span><span class="t dn" style="left:42.85px;top:1279.58px;transform:scaleX(0.900);color:#000;"><i class="o">1</i>8</span><span class="t nm" style="left:80.06px;top:1278.63px;transform:scaleX(0.963);">Prisca</span><span class="t nb" style="left:80.75px;top:1296.67px;transform:scaleX(1.005);"><i class="p">1</i>8-348</span><svg class="g" style="left:243.55px;top:1287.42px;color:#2a2a2a" width="17" height="17"><use href="#mL"/></svg></div>
<div class="r"><span class="t dl" style="left:8.23px;top:1318.92px;transform:scaleX(0.842);color:#000;">M</span><span class="t dn" style="left:42.93px;top:1318.92px;transform:scaleX(0.900);color:#000;"><i class="o">1</i>9</span><span class="t nm" style="left:80.02px;top:1317.97px;transform:scaleX(0.988);">Marius</span><span class="t nb" style="left:80.75px;top:1336.01px;transform:scaleX(1.008);"><i class="p">1</i>9-347</span></div>
<div class="r"><span class="t dl" style="left:10.21px;top:1358.27px;transform:scaleX(1.064);color:#000;">J</span><span class="t dn" style="left:41.77px;top:1358.27px;transform:scaleX(0.900);color:#000;">20</span><span class="t nm" style="left:80.66px;top:1357.32px;transform:scaleX(0.970);">Sébastien</span><span class="t nb" style="left:80.77px;top:1375.36px;transform:scaleX(0.999);">20-346</span><span class="t wk" style="left:278.77px;top:1359.74px;transform:scaleX(0.940);">3</span></div>
<div class="r"><span class="t dl" style="left:10.55px;top:1397.61px;transform:scaleX(0.827);color:#000;">V</span><span class="t dn" style="left:43.81px;top:1397.61px;transform:scaleX(0.900);color:#000;">2<i class="o">1</i></span><span class="t nm" style="left:81.37px;top:1396.66px;transform:scaleX(0.941);">Agnès</span><span class="t nb" style="left:80.77px;top:1414.7px;transform:scaleX(1.004);">2<i class="p">1</i>-345</span></div>
<div class="r"><span class="t dl" style="left:10.3px;top:1436.96px;transform:scaleX(0.866);color:#000;">S</span><span class="t dn" style="left:41.76px;top:1436.96px;transform:scaleX(0.900);color:#000;">22</span><span class="t nm" style="left:81.33px;top:1436.01px;transform:scaleX(0.963);">Vincent</span><span class="t nb" style="left:80.77px;top:1454.05px;transform:scaleX(0.994);">22-344</span></div>
<div class="r w s"><span class="t dl" style="left:9.57px;top:1476.3px;transform:scaleX(0.823);">D</span><span class="t dn" style="left:41.7px;top:1476.3px;transform:scaleX(0.900);">23</span><span class="t nm" style="left:80.37px;top:1475.35px;transform:scaleX(0.921);">Barnard</span><span class="t nb" style="left:81.03px;top:1493.39px;transform:scaleX(1.016);">23-343</span></div>
<div class="r"><span class="t dl" style="left:10.43px;top:1515.65px;transform:scaleX(0.864);color:#000;">L</span><span class="t dn" style="left:41.28px;top:1515.65px;transform:scaleX(0.900);color:#000;">24</span><span class="t nm" style="left:80.1px;top:1514.7px;transform:scaleX(0.933);">Fr. de Sales</span><span class="t nb" style="left:80.77px;top:1532.74px;transform:scaleX(1.001);">24-342</span></div>
<div class="r"><span class="t dl" style="left:8.23px;top:1554.99px;transform:scaleX(0.842);color:#000;">M</span><span class="t dn" style="left:41.59px;top:1554.99px;transform:scaleX(0.900);color:#000;">25</span><span class="t nm" style="left:80.6px;top:1554.04px;transform:scaleX(0.943);">Conv. st Paul</span><span class="t nb" style="left:80.76px;top:1572.08px;transform:scaleX(1.008);">25-34<i class="p">1</i></span></div>
<div class="r"><span class="t dl" style="left:8.23px;top:1594.34px;transform:scaleX(0.842);color:#000;">M</span><span class="t dn" style="left:41.7px;top:1594.34px;transform:scaleX(0.900);color:#000;">26</span><span class="t nm" style="left:80.05px;top:1593.39px;transform:scaleX(0.970);">Paule</span><span class="t nb" style="left:80.77px;top:1611.43px;transform:scaleX(0.997);">26-340</span><svg class="g" style="left:244.55px;top:1602.08px;color:#2a2a2a" width="17" height="17"><use href="#mN"/></svg></div>
<div class="r"><span class="t dl" style="left:10.21px;top:1633.68px;transform:scaleX(1.064);color:#000;">J</span><span class="t dn" style="left:41.81px;top:1633.68px;transform:scaleX(0.900);color:#000;">27</span><span class="t nm" style="left:81.37px;top:1632.73px;transform:scaleX(0.952);">Angèle</span><span class="t nb" style="left:80.77px;top:1650.77px;">27-339</span><span class="t wk" style="left:278.45px;top:1635.15px;transform:scaleX(0.940);">4</span></div>
<div class="r"><span class="t dl" style="left:10.55px;top:1673.03px;transform:scaleX(0.827);color:#000;">V</span><span class="t dn" style="left:41.63px;top:1673.03px;transform:scaleX(0.900);color:#000;">28</span><span class="t nm" style="left:81.05px;top:1672.08px;transform:scaleX(0.945);">Th. d'Aquin</span><span class="t nb" style="left:80.77px;top:1690.12px;transform:scaleX(0.999);">28-338</span></div>
<div class="r"><span class="t dl" style="left:10.3px;top:1712.37px;transform:scaleX(0.866);color:#000;">S</span><span class="t dn" style="left:41.71px;top:1712.37px;transform:scaleX(0.900);color:#000;">29</span><span class="t nm" style="left:80.6px;top:1711.42px;transform:scaleX(0.945);">Gildas</span><span class="t nb" style="left:80.77px;top:1729.46px;transform:scaleX(1.001);">29-337</span></div>
<div class="r w s"><span class="t dl" style="left:9.57px;top:1751.72px;transform:scaleX(0.823);">D</span><span class="t dn" style="left:41.94px;top:1751.72px;transform:scaleX(0.900);">30</span><span class="t nm" style="left:80.34px;top:1750.77px;transform:scaleX(0.944);">Martine</span><span class="t nb" style="left:81.23px;top:1768.81px;transform:scaleX(1.012);">30-336</span></div>
<div class="r"><span class="t dl" style="left:10.43px;top:1791.06px;transform:scaleX(0.864);color:#000;">L</span><span class="t dn" style="left:43.97px;top:1791.06px;transform:scaleX(0.900);color:#000;">3<i class="o">1</i></span><span class="t nm" style="left:80.02px;top:1790.11px;transform:scaleX(0.992);">Marcelle</span><span class="t nb" style="left:80.97px;top:1808.15px;">3<i class="p">1</i>-335</span></div>
<span class="t ft" style="left:15.6px;top:1833.09px;transform:scaleX(0.866);">JOURS OUVRABLES : 25</span><span class="t ft" style="left:177.4px;top:1833.09px;transform:scaleX(1.020);">-</span><span class="t ft" style="left:186.2px;top:1833.09px;transform:scaleX(0.834);">JOURS OUVRÉS : 21</span>
</div>
<svg class="g" style="left:1315px;top:1762px" width="110" height="50" viewBox="1315 1762 110 50"><rect x="1323.8" y="1780.9" width="66" height="13.6" rx="6.8" fill="#fff" stroke="#111" stroke-width=".9"/><circle cx="1397.8" cy="1786.9" r="17.2" fill="#fff" stroke="#111" stroke-width="1.5"/><path d="M1379.6 1776.2l1.6 4.4 4.3-1.9" fill="none" stroke="#111" stroke-width="1.3"/></svg>
<span class="t" style="left:1328px;top:1784.2px;font-size:7px;font-weight:700;color:#111;transform:scaleX(.93)">HEURE D'HIVER</span>
<svg class="g" style="left:1383px;top:1786px" width="9" height="5"><path d="M1.6 1.6h6.4l-.4 2.2h-6.4z" fill="#000"/></svg><span class="t" style="left:1389.6px;top:1775.6px;font-size:22.5px;font-weight:700;font-style:italic;color:#000;transform:scaleX(.82)">1</span><span class="t" style="left:1401.4px;top:1782.4px;font-size:14.4px;font-weight:700;font-style:italic;color:#000;transform:scaleX(.8)">H</span>
<div class="fl"><span class="t fs" style="left:231.71px;top:1859.28px;font-size:16.8px;color:#111;font-weight:700;transform:scaleX(0.8681)">VACANCES SCOLAIRES •</span><span class="t fs" style="left:414.18px;top:1859.28px;font-size:16.8px;color:#EE7850;font-weight:700;transform:scaleX(0.8688)">ZONE A</span><span class="t fs" style="left:472.54px;top:1859.28px;font-size:16.8px;color:#EE7850;transform:scaleX(0.9535)">: Besançon, Bordeaux, Clermont-Ferrand, Dijon, Grenoble, Limoges, Lyon, Poitiers.</span><span class="t fs" style="left:1067.88px;top:1859.28px;font-size:16.8px;color:#4E9FDB;font-weight:700;transform:scaleX(0.8549)">ZONE B</span><span class="t fs" style="left:1125.04px;top:1859.28px;font-size:16.8px;color:#4E9FDB;transform:scaleX(0.9523)">: Aix-Marseille, Amiens, Lille, Nancy-Metz, Nantes, Nice, Normandie, Orléans-Tours, Reims, Rennes, Strasbourg.</span><span class="t fs" style="left:1926.88px;top:1859.28px;font-size:16.8px;color:#A0C83C;font-weight:700;transform:scaleX(0.8604)">ZONE C</span><span class="t fs" style="left:1985.03px;top:1859.28px;font-size:16.8px;color:#A0C83C;transform:scaleX(0.9606)">: Créteil, Montpellier, Paris, Toulouse, Versailles.</span></div>
<div class="fl"><span class="t fs" style="left:442.65px;top:1875.01px;font-size:17px;color:#1d1d1b;transform:scaleX(0.9491)">« Les congés scolaires, donnés à titre indicatif et sous toutes réserves, sont conformes au projet connu à la date d’impression. »</span><svg class="g" style="left:1365.9px;top:1878.9px;color:#EE7850" width="9.4" height="9.4"><use href="#ast"/></svg><svg class="g" style="left:1375.4px;top:1878.9px;color:#4E9FDB" width="9.4" height="9.4"><use href="#ast"/></svg><svg class="g" style="left:1384.9px;top:1878.9px;color:#A0C83C" width="9.4" height="9.4"><use href="#ast"/></svg><span class="t fs" style="left:1397.86px;top:1875.01px;font-size:17px;color:#1d1d1b;transform:scaleX(0.9476)">« Les congés scolaires de l’année 2026-2027 seront consultables sur le site www.education.gouv.fr »</span></div>
</body></html>
